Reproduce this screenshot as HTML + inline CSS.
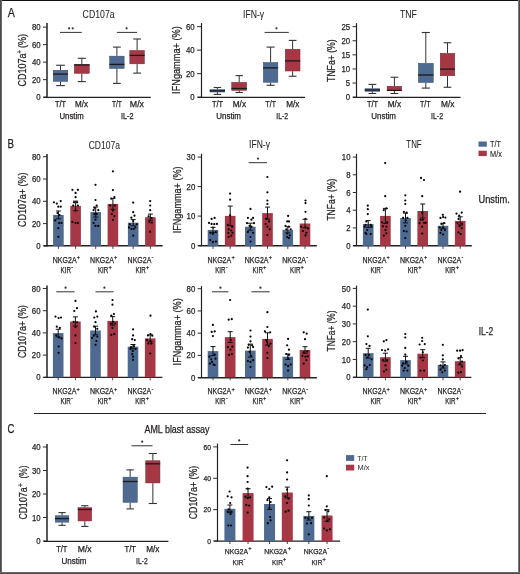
<!DOCTYPE html>
<html><head><meta charset="utf-8"><style>
html,body{margin:0;padding:0;background:#fff;width:520px;height:574px;overflow:hidden}
svg{display:block;font-family:"Liberation Sans", sans-serif;will-change:transform}
text{stroke:#231f20;stroke-width:0.25px}
</style></head><body>
<svg width="520" height="574" viewBox="0 0 520 574">
<rect x="0" y="0" width="520" height="574" fill="#fff"/>
<text x="7.7" y="17.4" font-size="12.2" textLength="7.1" lengthAdjust="spacingAndGlyphs" fill="#231f20">A</text>
<text x="7.6" y="148.0" font-size="12.0" textLength="6.5" lengthAdjust="spacingAndGlyphs" fill="#231f20">B</text>
<text x="7.5" y="432.6" font-size="12.0" textLength="6.9" lengthAdjust="spacingAndGlyphs" fill="#231f20">C</text>
<line x1="47" y1="23.1" x2="47" y2="97.75" stroke="#222" stroke-width="1.5"/>
<line x1="43" y1="97.15" x2="47" y2="97.15" stroke="#2e2e2e" stroke-width="1.0"/>
<text x="40.7" y="100.25" font-size="8.8" text-anchor="end" textLength="4.35" lengthAdjust="spacingAndGlyphs" fill="#231f20">0</text>
<line x1="43" y1="79.65" x2="47" y2="79.65" stroke="#2e2e2e" stroke-width="1.0"/>
<text x="40.7" y="82.75" font-size="8.8" text-anchor="end" textLength="8.69" lengthAdjust="spacingAndGlyphs" fill="#231f20">20</text>
<line x1="43" y1="62.15" x2="47" y2="62.15" stroke="#2e2e2e" stroke-width="1.0"/>
<text x="40.7" y="65.25" font-size="8.8" text-anchor="end" textLength="8.69" lengthAdjust="spacingAndGlyphs" fill="#231f20">40</text>
<line x1="43" y1="44.65" x2="47" y2="44.65" stroke="#2e2e2e" stroke-width="1.0"/>
<text x="40.7" y="47.75" font-size="8.8" text-anchor="end" textLength="8.69" lengthAdjust="spacingAndGlyphs" fill="#231f20">60</text>
<line x1="43" y1="27.15" x2="47" y2="27.15" stroke="#2e2e2e" stroke-width="1.0"/>
<text x="40.7" y="30.25" font-size="8.8" text-anchor="end" textLength="8.69" lengthAdjust="spacingAndGlyphs" fill="#231f20">80</text>
<line x1="43.5" y1="97.4" x2="150.8" y2="97.4" stroke="#222" stroke-width="1.1"/>
<line x1="60.5" y1="65.25" x2="60.5" y2="70" stroke="#333" stroke-width="1.0"/>
<line x1="60.5" y1="81.6" x2="60.5" y2="85.6" stroke="#333" stroke-width="1.0"/>
<line x1="56.15" y1="65.25" x2="64.85" y2="65.25" stroke="#333" stroke-width="1.1"/>
<line x1="56.15" y1="85.6" x2="64.85" y2="85.6" stroke="#333" stroke-width="1.1"/>
<rect x="53.25" y="70.25" width="14.5" height="11.1" fill="#4f6a91" stroke="#34496a" stroke-width="0.5"/>
<line x1="53" y1="74.1" x2="68" y2="74.1" stroke="#1a1a1a" stroke-width="1.3"/>
<line x1="81.8" y1="58.3" x2="81.8" y2="64" stroke="#333" stroke-width="1.0"/>
<line x1="81.8" y1="73.6" x2="81.8" y2="81.6" stroke="#333" stroke-width="1.0"/>
<line x1="77.75" y1="58.3" x2="85.85" y2="58.3" stroke="#333" stroke-width="1.1"/>
<line x1="77.75" y1="81.6" x2="85.85" y2="81.6" stroke="#333" stroke-width="1.1"/>
<rect x="74.35" y="64.25" width="14.9" height="9.1" fill="#a63745" stroke="#7a2232" stroke-width="0.5"/>
<line x1="74.1" y1="65.0" x2="89.5" y2="65.0" stroke="#1a1a1a" stroke-width="1.3"/>
<line x1="116.9" y1="47.1" x2="116.9" y2="55.9" stroke="#333" stroke-width="1.0"/>
<line x1="116.9" y1="68.75" x2="116.9" y2="83.4" stroke="#333" stroke-width="1.0"/>
<line x1="113.0" y1="47.1" x2="120.80000000000001" y2="47.1" stroke="#333" stroke-width="1.1"/>
<line x1="113.0" y1="83.4" x2="120.80000000000001" y2="83.4" stroke="#333" stroke-width="1.1"/>
<rect x="109.65" y="56.15" width="14.5" height="12.35" fill="#4f6a91" stroke="#34496a" stroke-width="0.5"/>
<line x1="109.4" y1="64.4" x2="124.4" y2="64.4" stroke="#1a1a1a" stroke-width="1.3"/>
<line x1="137.1" y1="39" x2="137.1" y2="50.25" stroke="#333" stroke-width="1.0"/>
<line x1="137.1" y1="64.1" x2="137.1" y2="73.1" stroke="#333" stroke-width="1.0"/>
<line x1="133.2" y1="39" x2="141.0" y2="39" stroke="#333" stroke-width="1.1"/>
<line x1="133.2" y1="73.1" x2="141.0" y2="73.1" stroke="#333" stroke-width="1.1"/>
<rect x="129.85" y="50.5" width="14.5" height="13.35" fill="#a63745" stroke="#7a2232" stroke-width="0.5"/>
<line x1="129.6" y1="55.4" x2="144.6" y2="55.4" stroke="#1a1a1a" stroke-width="1.3"/>
<line x1="60" y1="32.4" x2="81.8" y2="32.4" stroke="#333" stroke-width="1.0"/>
<circle cx="69.10000000000001" cy="28.299999999999997" r="1.1" fill="#333"/>
<circle cx="72.7" cy="28.299999999999997" r="1.1" fill="#333"/>
<line x1="116.9" y1="32.4" x2="137.1" y2="32.4" stroke="#333" stroke-width="1.0"/>
<circle cx="126.6" cy="28.299999999999997" r="1.1" fill="#333"/>
<text x="60.5" y="107.4" font-size="8.4" text-anchor="middle" textLength="11" lengthAdjust="spacingAndGlyphs" fill="#231f20">T/T</text>
<text x="81.6" y="107.4" font-size="8.4" text-anchor="middle" textLength="13.0" lengthAdjust="spacingAndGlyphs" fill="#231f20">M/x</text>
<text x="116.9" y="107.4" font-size="8.4" text-anchor="middle" textLength="10.0" lengthAdjust="spacingAndGlyphs" fill="#231f20">T/T</text>
<text x="136.9" y="107.4" font-size="8.4" text-anchor="middle" textLength="14.2" lengthAdjust="spacingAndGlyphs" fill="#231f20">M/x</text>
<text x="71.6" y="119.4" font-size="8.4" text-anchor="middle" textLength="24.2" lengthAdjust="spacingAndGlyphs" fill="#231f20">Unstim</text>
<text x="127.25" y="119.4" font-size="8.4" text-anchor="middle" textLength="12.5" lengthAdjust="spacingAndGlyphs" fill="#231f20">IL-2</text>
<text x="98.6" y="18.1" font-size="10.2" text-anchor="middle" textLength="32" lengthAdjust="spacingAndGlyphs" fill="#231f20" style="stroke-width:0.05px">CD107a</text>
<text transform="translate(26.1 60.25) rotate(-90)" font-size="10.6" text-anchor="middle" fill="#231f20" textLength="52.7" lengthAdjust="spacingAndGlyphs">CD107a<tspan font-size="6.5" dy="-4.2">+</tspan><tspan dy="4.2"> (%)</tspan></text>
<line x1="201.5" y1="23.1" x2="201.5" y2="97.75" stroke="#222" stroke-width="1.2"/>
<line x1="197" y1="97.15" x2="201" y2="97.15" stroke="#2e2e2e" stroke-width="1.0"/>
<text x="194.7" y="100.25" font-size="8.8" text-anchor="end" textLength="4.35" lengthAdjust="spacingAndGlyphs" fill="#231f20">0</text>
<line x1="197" y1="73.65" x2="201" y2="73.65" stroke="#2e2e2e" stroke-width="1.0"/>
<text x="194.7" y="76.75" font-size="8.8" text-anchor="end" textLength="8.69" lengthAdjust="spacingAndGlyphs" fill="#231f20">20</text>
<line x1="197" y1="50.15" x2="201" y2="50.15" stroke="#2e2e2e" stroke-width="1.0"/>
<text x="194.7" y="53.25" font-size="8.8" text-anchor="end" textLength="8.69" lengthAdjust="spacingAndGlyphs" fill="#231f20">40</text>
<line x1="197" y1="26.65" x2="201" y2="26.65" stroke="#2e2e2e" stroke-width="1.0"/>
<text x="194.7" y="29.75" font-size="8.8" text-anchor="end" textLength="8.69" lengthAdjust="spacingAndGlyphs" fill="#231f20">60</text>
<line x1="198" y1="97.4" x2="305" y2="97.4" stroke="#222" stroke-width="1.1"/>
<line x1="217.375" y1="87.5" x2="217.375" y2="89.4" stroke="#333" stroke-width="1.0"/>
<line x1="217.375" y1="92.25" x2="217.375" y2="94.4" stroke="#333" stroke-width="1.0"/>
<line x1="213.625" y1="87.5" x2="221.125" y2="87.5" stroke="#333" stroke-width="1.1"/>
<line x1="213.625" y1="94.4" x2="221.125" y2="94.4" stroke="#333" stroke-width="1.1"/>
<rect x="210.0" y="89.65" width="14.75" height="2.35" fill="#4f6a91" stroke="#34496a" stroke-width="0.5"/>
<line x1="209.75" y1="90.9" x2="225" y2="90.9" stroke="#1a1a1a" stroke-width="1.3"/>
<line x1="239.2" y1="75.6" x2="239.2" y2="82.1" stroke="#333" stroke-width="1.0"/>
<line x1="239.2" y1="90.6" x2="239.2" y2="92.5" stroke="#333" stroke-width="1.0"/>
<line x1="235.5" y1="75.6" x2="242.89999999999998" y2="75.6" stroke="#333" stroke-width="1.1"/>
<line x1="235.5" y1="92.5" x2="242.89999999999998" y2="92.5" stroke="#333" stroke-width="1.1"/>
<rect x="231.75" y="82.35" width="14.9" height="8.0" fill="#a63745" stroke="#7a2232" stroke-width="0.5"/>
<line x1="231.5" y1="88.5" x2="246.9" y2="88.5" stroke="#1a1a1a" stroke-width="1.3"/>
<line x1="270.6" y1="47.1" x2="270.6" y2="62.25" stroke="#333" stroke-width="1.0"/>
<line x1="270.6" y1="82.5" x2="270.6" y2="85.25" stroke="#333" stroke-width="1.0"/>
<line x1="266.55" y1="47.1" x2="274.65000000000003" y2="47.1" stroke="#333" stroke-width="1.1"/>
<line x1="266.55" y1="85.25" x2="274.65000000000003" y2="85.25" stroke="#333" stroke-width="1.1"/>
<rect x="263.35" y="62.5" width="14.5" height="19.75" fill="#4f6a91" stroke="#34496a" stroke-width="0.5"/>
<line x1="263.1" y1="67.9" x2="278.1" y2="67.9" stroke="#1a1a1a" stroke-width="1.3"/>
<line x1="292.625" y1="40.4" x2="292.625" y2="49" stroke="#333" stroke-width="1.0"/>
<line x1="292.625" y1="71.25" x2="292.625" y2="76.25" stroke="#333" stroke-width="1.0"/>
<line x1="288.75" y1="40.4" x2="296.5" y2="40.4" stroke="#333" stroke-width="1.1"/>
<line x1="288.75" y1="76.25" x2="296.5" y2="76.25" stroke="#333" stroke-width="1.1"/>
<rect x="285.25" y="49.25" width="14.75" height="21.75" fill="#a63745" stroke="#7a2232" stroke-width="0.5"/>
<line x1="285" y1="60.9" x2="300.25" y2="60.9" stroke="#1a1a1a" stroke-width="1.3"/>
<line x1="264.6" y1="32.4" x2="288.8" y2="32.4" stroke="#333" stroke-width="1.0"/>
<circle cx="276.5" cy="28.299999999999997" r="1.1" fill="#333"/>
<text x="217.45" y="107.4" font-size="8.4" text-anchor="middle" textLength="11.1" lengthAdjust="spacingAndGlyphs" fill="#231f20">T/T</text>
<text x="239.38" y="107.4" font-size="8.4" text-anchor="middle" textLength="13.25" lengthAdjust="spacingAndGlyphs" fill="#231f20">M/x</text>
<text x="270.8" y="107.4" font-size="8.4" text-anchor="middle" textLength="10.4" lengthAdjust="spacingAndGlyphs" fill="#231f20">T/T</text>
<text x="292.82" y="107.4" font-size="8.4" text-anchor="middle" textLength="13.15" lengthAdjust="spacingAndGlyphs" fill="#231f20">M/x</text>
<text x="228.62" y="119.4" font-size="8.4" text-anchor="middle" textLength="24.75" lengthAdjust="spacingAndGlyphs" fill="#231f20">Unstim</text>
<text x="282.18" y="119.4" font-size="8.4" text-anchor="middle" textLength="11.85" lengthAdjust="spacingAndGlyphs" fill="#231f20">IL-2</text>
<text x="253.65" y="18.1" font-size="10.2" text-anchor="middle" textLength="21.1" lengthAdjust="spacingAndGlyphs" fill="#231f20" style="stroke-width:0.05px">IFN-&#947;</text>
<text transform="translate(179.9 60.1) rotate(-90)" x="0" y="0" font-size="10.6" text-anchor="middle" textLength="67.6" lengthAdjust="spacingAndGlyphs" fill="#231f20">IFNgamma+ (%)</text>
<line x1="356.5" y1="23.1" x2="356.5" y2="97.75" stroke="#222" stroke-width="1.2"/>
<line x1="352.5" y1="97.15" x2="356.5" y2="97.15" stroke="#2e2e2e" stroke-width="1.0"/>
<text x="350.2" y="100.25" font-size="8.8" text-anchor="end" textLength="4.35" lengthAdjust="spacingAndGlyphs" fill="#231f20">0</text>
<line x1="352.5" y1="83.05" x2="356.5" y2="83.05" stroke="#2e2e2e" stroke-width="1.0"/>
<text x="350.2" y="86.15" font-size="8.8" text-anchor="end" textLength="4.35" lengthAdjust="spacingAndGlyphs" fill="#231f20">5</text>
<line x1="352.5" y1="68.95" x2="356.5" y2="68.95" stroke="#2e2e2e" stroke-width="1.0"/>
<text x="350.2" y="72.05" font-size="8.8" text-anchor="end" textLength="8.69" lengthAdjust="spacingAndGlyphs" fill="#231f20">10</text>
<line x1="352.5" y1="54.85" x2="356.5" y2="54.85" stroke="#2e2e2e" stroke-width="1.0"/>
<text x="350.2" y="57.95" font-size="8.8" text-anchor="end" textLength="8.69" lengthAdjust="spacingAndGlyphs" fill="#231f20">15</text>
<line x1="352.5" y1="40.75" x2="356.5" y2="40.75" stroke="#2e2e2e" stroke-width="1.0"/>
<text x="350.2" y="43.85" font-size="8.8" text-anchor="end" textLength="8.69" lengthAdjust="spacingAndGlyphs" fill="#231f20">20</text>
<line x1="352.5" y1="26.65" x2="356.5" y2="26.65" stroke="#2e2e2e" stroke-width="1.0"/>
<text x="350.2" y="29.75" font-size="8.8" text-anchor="end" textLength="8.69" lengthAdjust="spacingAndGlyphs" fill="#231f20">25</text>
<line x1="353" y1="97.4" x2="460.6" y2="97.4" stroke="#222" stroke-width="1.1"/>
<line x1="372.375" y1="84.4" x2="372.375" y2="88.5" stroke="#333" stroke-width="1.0"/>
<line x1="372.375" y1="91.5" x2="372.375" y2="93.5" stroke="#333" stroke-width="1.0"/>
<line x1="368.5" y1="84.4" x2="376.25" y2="84.4" stroke="#333" stroke-width="1.1"/>
<line x1="368.5" y1="93.5" x2="376.25" y2="93.5" stroke="#333" stroke-width="1.1"/>
<rect x="365.0" y="88.75" width="14.75" height="2.5" fill="#4f6a91" stroke="#34496a" stroke-width="0.5"/>
<line x1="364.75" y1="90" x2="380" y2="90" stroke="#1a1a1a" stroke-width="1.3"/>
<line x1="394.4" y1="77.25" x2="394.4" y2="86" stroke="#333" stroke-width="1.0"/>
<line x1="394.4" y1="90.8" x2="394.4" y2="93.5" stroke="#333" stroke-width="1.0"/>
<line x1="390.59999999999997" y1="77.25" x2="398.2" y2="77.25" stroke="#333" stroke-width="1.1"/>
<line x1="390.59999999999997" y1="93.5" x2="398.2" y2="93.5" stroke="#333" stroke-width="1.1"/>
<rect x="387.15" y="86.25" width="14.5" height="4.3" fill="#a63745" stroke="#7a2232" stroke-width="0.5"/>
<line x1="386.9" y1="90.4" x2="401.9" y2="90.4" stroke="#1a1a1a" stroke-width="1.3"/>
<line x1="425.8" y1="32.5" x2="425.8" y2="63.1" stroke="#333" stroke-width="1.0"/>
<line x1="425.8" y1="82.75" x2="425.8" y2="88.1" stroke="#333" stroke-width="1.0"/>
<line x1="421.75" y1="32.5" x2="429.85" y2="32.5" stroke="#333" stroke-width="1.1"/>
<line x1="421.75" y1="88.1" x2="429.85" y2="88.1" stroke="#333" stroke-width="1.1"/>
<rect x="418.35" y="63.35" width="14.9" height="19.15" fill="#4f6a91" stroke="#34496a" stroke-width="0.5"/>
<line x1="418.1" y1="75" x2="433.5" y2="75" stroke="#1a1a1a" stroke-width="1.3"/>
<line x1="447.5" y1="42.75" x2="447.5" y2="53.1" stroke="#333" stroke-width="1.0"/>
<line x1="447.5" y1="76" x2="447.5" y2="87.25" stroke="#333" stroke-width="1.0"/>
<line x1="443.625" y1="42.75" x2="451.375" y2="42.75" stroke="#333" stroke-width="1.1"/>
<line x1="443.625" y1="87.25" x2="451.375" y2="87.25" stroke="#333" stroke-width="1.1"/>
<rect x="440.25" y="53.35" width="14.5" height="22.4" fill="#a63745" stroke="#7a2232" stroke-width="0.5"/>
<line x1="440" y1="69.1" x2="455" y2="69.1" stroke="#1a1a1a" stroke-width="1.3"/>
<text x="372.45" y="107.4" font-size="8.4" text-anchor="middle" textLength="11.1" lengthAdjust="spacingAndGlyphs" fill="#231f20">T/T</text>
<text x="394.38" y="107.4" font-size="8.4" text-anchor="middle" textLength="13.25" lengthAdjust="spacingAndGlyphs" fill="#231f20">M/x</text>
<text x="425.3" y="107.4" font-size="8.4" text-anchor="middle" textLength="10.6" lengthAdjust="spacingAndGlyphs" fill="#231f20">T/T</text>
<text x="447.7" y="107.4" font-size="8.4" text-anchor="middle" textLength="13.4" lengthAdjust="spacingAndGlyphs" fill="#231f20">M/x</text>
<text x="383.62" y="119.4" font-size="8.4" text-anchor="middle" textLength="24.75" lengthAdjust="spacingAndGlyphs" fill="#231f20">Unstim</text>
<text x="437.05" y="119.4" font-size="8.4" text-anchor="middle" textLength="12.1" lengthAdjust="spacingAndGlyphs" fill="#231f20">IL-2</text>
<text x="408.45" y="18.1" font-size="10.2" text-anchor="middle" textLength="16.9" lengthAdjust="spacingAndGlyphs" fill="#231f20" style="stroke-width:0.05px">TNF</text>
<text transform="translate(335.1 60.65) rotate(-90)" x="0" y="0" font-size="10.6" text-anchor="middle" textLength="42.5" lengthAdjust="spacingAndGlyphs" fill="#231f20">TNFa+ (%)</text>
<line x1="47" y1="154" x2="47" y2="246.5" stroke="#222" stroke-width="1.5"/>
<line x1="43" y1="245.9" x2="47" y2="245.9" stroke="#2e2e2e" stroke-width="1.0"/>
<text x="40.7" y="249.0" font-size="8.8" text-anchor="end" textLength="4.35" lengthAdjust="spacingAndGlyphs" fill="#231f20">0</text>
<line x1="43" y1="223.6" x2="47" y2="223.6" stroke="#2e2e2e" stroke-width="1.0"/>
<text x="40.7" y="226.7" font-size="8.8" text-anchor="end" textLength="8.69" lengthAdjust="spacingAndGlyphs" fill="#231f20">20</text>
<line x1="43" y1="201.3" x2="47" y2="201.3" stroke="#2e2e2e" stroke-width="1.0"/>
<text x="40.7" y="204.4" font-size="8.8" text-anchor="end" textLength="8.69" lengthAdjust="spacingAndGlyphs" fill="#231f20">40</text>
<line x1="43" y1="179.0" x2="47" y2="179.0" stroke="#2e2e2e" stroke-width="1.0"/>
<text x="40.7" y="182.1" font-size="8.8" text-anchor="end" textLength="8.69" lengthAdjust="spacingAndGlyphs" fill="#231f20">60</text>
<line x1="43" y1="156.7" x2="47" y2="156.7" stroke="#2e2e2e" stroke-width="1.0"/>
<text x="40.7" y="159.8" font-size="8.8" text-anchor="end" textLength="8.69" lengthAdjust="spacingAndGlyphs" fill="#231f20">80</text>
<line x1="43.7" y1="245.8" x2="162.7" y2="245.8" stroke="#222" stroke-width="1.5"/>
<rect x="53.1" y="214.9" width="10.600000000000001" height="31.0" fill="#4f6a91"/>
<circle cx="53.9" cy="202.3" r="1.1" fill="#000"/>
<circle cx="56.8" cy="203.6" r="1.1" fill="#000"/>
<circle cx="60.7" cy="201.1" r="1.1" fill="#000"/>
<circle cx="58.3" cy="206.7" r="1.1" fill="#000"/>
<circle cx="60.7" cy="206.7" r="1.1" fill="#000"/>
<circle cx="55.2" cy="220.4" r="1.1" fill="#000"/>
<circle cx="59.1" cy="223" r="1.1" fill="#000"/>
<circle cx="61.5" cy="223" r="1.1" fill="#000"/>
<circle cx="58.3" cy="228.2" r="1.1" fill="#000"/>
<circle cx="58.3" cy="236.8" r="1.1" fill="#000"/>
<circle cx="57.5" cy="213" r="1.1" fill="#000"/>
<circle cx="59.5" cy="215" r="1.1" fill="#000"/>
<line x1="58.400000000000006" y1="211" x2="58.400000000000006" y2="218.8" stroke="#111" stroke-width="1.0"/>
<line x1="55.900000000000006" y1="211" x2="60.900000000000006" y2="211" stroke="#111" stroke-width="1.0"/>
<line x1="55.900000000000006" y1="218.8" x2="60.900000000000006" y2="218.8" stroke="#111" stroke-width="1.0"/>
<line x1="58.400000000000006" y1="245.9" x2="58.400000000000006" y2="248.9" stroke="#333" stroke-width="0.9"/>
<rect x="70.3" y="205.9" width="10.600000000000009" height="40.0" fill="#a63745"/>
<circle cx="72.4" cy="189.8" r="1.1" fill="#000"/>
<circle cx="77.9" cy="189.8" r="1.1" fill="#000"/>
<circle cx="75.6" cy="192.9" r="1.1" fill="#000"/>
<circle cx="75.6" cy="197.2" r="1.1" fill="#000"/>
<circle cx="74" cy="202.3" r="1.1" fill="#000"/>
<circle cx="77.1" cy="202.3" r="1.1" fill="#000"/>
<circle cx="73.2" cy="205.5" r="1.1" fill="#000"/>
<circle cx="77.9" cy="205.5" r="1.1" fill="#000"/>
<circle cx="75.6" cy="210.5" r="1.1" fill="#000"/>
<circle cx="72.4" cy="221.9" r="1.1" fill="#000"/>
<circle cx="75.6" cy="223" r="1.1" fill="#000"/>
<circle cx="77.9" cy="223" r="1.1" fill="#000"/>
<line x1="75.6" y1="201.1" x2="75.6" y2="210.70000000000002" stroke="#111" stroke-width="1.0"/>
<line x1="73.1" y1="201.1" x2="78.1" y2="201.1" stroke="#111" stroke-width="1.0"/>
<line x1="73.1" y1="210.70000000000002" x2="78.1" y2="210.70000000000002" stroke="#111" stroke-width="1.0"/>
<line x1="75.6" y1="245.9" x2="75.6" y2="248.9" stroke="#333" stroke-width="0.9"/>
<rect x="90.4" y="212.05" width="10.599999999999994" height="33.849999999999994" fill="#4f6a91"/>
<circle cx="95.5" cy="184.8" r="1.1" fill="#000"/>
<circle cx="95.5" cy="200" r="1.1" fill="#000"/>
<circle cx="96.7" cy="205.5" r="1.1" fill="#000"/>
<circle cx="94.4" cy="207.8" r="1.1" fill="#000"/>
<circle cx="93.6" cy="210.2" r="1.1" fill="#000"/>
<circle cx="98.3" cy="210.2" r="1.1" fill="#000"/>
<circle cx="94.4" cy="214.1" r="1.1" fill="#000"/>
<circle cx="96.7" cy="214.1" r="1.1" fill="#000"/>
<circle cx="95.5" cy="219.6" r="1.1" fill="#000"/>
<circle cx="93.6" cy="223" r="1.1" fill="#000"/>
<circle cx="95.5" cy="225.9" r="1.1" fill="#000"/>
<circle cx="98.3" cy="225.9" r="1.1" fill="#000"/>
<line x1="95.7" y1="207" x2="95.7" y2="217.10000000000002" stroke="#111" stroke-width="1.0"/>
<line x1="93.2" y1="207" x2="98.2" y2="207" stroke="#111" stroke-width="1.0"/>
<line x1="93.2" y1="217.10000000000002" x2="98.2" y2="217.10000000000002" stroke="#111" stroke-width="1.0"/>
<line x1="95.7" y1="245.9" x2="95.7" y2="248.9" stroke="#333" stroke-width="0.9"/>
<rect x="107.6" y="203.9" width="10.600000000000009" height="42.0" fill="#a63745"/>
<circle cx="112.9" cy="171.3" r="1.1" fill="#000"/>
<circle cx="112.9" cy="190.1" r="1.1" fill="#000"/>
<circle cx="114.4" cy="197.2" r="1.1" fill="#000"/>
<circle cx="111.3" cy="198.7" r="1.1" fill="#000"/>
<circle cx="110.2" cy="205.5" r="1.1" fill="#000"/>
<circle cx="114.9" cy="205.5" r="1.1" fill="#000"/>
<circle cx="112.9" cy="210.6" r="1.1" fill="#000"/>
<circle cx="111.8" cy="214.1" r="1.1" fill="#000"/>
<circle cx="114.4" cy="216.1" r="1.1" fill="#000"/>
<circle cx="112.9" cy="219.9" r="1.1" fill="#000"/>
<line x1="112.9" y1="198.4" x2="112.9" y2="209.4" stroke="#111" stroke-width="1.0"/>
<line x1="110.4" y1="198.4" x2="115.4" y2="198.4" stroke="#111" stroke-width="1.0"/>
<line x1="110.4" y1="209.4" x2="115.4" y2="209.4" stroke="#111" stroke-width="1.0"/>
<line x1="112.9" y1="245.9" x2="112.9" y2="248.9" stroke="#333" stroke-width="0.9"/>
<rect x="127.9" y="222.7" width="10.599999999999994" height="23.200000000000017" fill="#4f6a91"/>
<circle cx="133.2" cy="202.6" r="1.1" fill="#000"/>
<circle cx="133.2" cy="212.2" r="1.1" fill="#000"/>
<circle cx="134.5" cy="215.7" r="1.1" fill="#000"/>
<circle cx="131.4" cy="217.7" r="1.1" fill="#000"/>
<circle cx="133.2" cy="221.1" r="1.1" fill="#000"/>
<circle cx="129.8" cy="224.3" r="1.1" fill="#000"/>
<circle cx="136.8" cy="224.3" r="1.1" fill="#000"/>
<circle cx="129" cy="227.4" r="1.1" fill="#000"/>
<circle cx="135.3" cy="227.4" r="1.1" fill="#000"/>
<circle cx="131.4" cy="229" r="1.1" fill="#000"/>
<circle cx="133.7" cy="229" r="1.1" fill="#000"/>
<circle cx="133.2" cy="235.7" r="1.1" fill="#000"/>
<line x1="133.2" y1="219.6" x2="133.2" y2="225.79999999999998" stroke="#111" stroke-width="1.0"/>
<line x1="130.7" y1="219.6" x2="135.7" y2="219.6" stroke="#111" stroke-width="1.0"/>
<line x1="130.7" y1="225.79999999999998" x2="135.7" y2="225.79999999999998" stroke="#111" stroke-width="1.0"/>
<line x1="133.2" y1="245.9" x2="133.2" y2="248.9" stroke="#333" stroke-width="0.9"/>
<rect x="145.1" y="217.2" width="10.599999999999994" height="28.700000000000017" fill="#a63745"/>
<circle cx="150.2" cy="201.1" r="1.1" fill="#000"/>
<circle cx="150.2" cy="205.5" r="1.1" fill="#000"/>
<circle cx="150.2" cy="210.2" r="1.1" fill="#000"/>
<circle cx="148.6" cy="216.4" r="1.1" fill="#000"/>
<circle cx="151.7" cy="218" r="1.1" fill="#000"/>
<circle cx="149.4" cy="221.9" r="1.1" fill="#000"/>
<circle cx="151.7" cy="222.7" r="1.1" fill="#000"/>
<circle cx="150.2" cy="231.7" r="1.1" fill="#000"/>
<line x1="150.39999999999998" y1="214.1" x2="150.39999999999998" y2="220.29999999999998" stroke="#111" stroke-width="1.0"/>
<line x1="147.89999999999998" y1="214.1" x2="152.89999999999998" y2="214.1" stroke="#111" stroke-width="1.0"/>
<line x1="147.89999999999998" y1="220.29999999999998" x2="152.89999999999998" y2="220.29999999999998" stroke="#111" stroke-width="1.0"/>
<line x1="150.39999999999998" y1="245.9" x2="150.39999999999998" y2="248.9" stroke="#333" stroke-width="0.9"/>
<text x="52.8" y="263.0" font-size="8.6" textLength="23.8" lengthAdjust="spacingAndGlyphs" fill="#231f20">NKG2A</text>
<text x="76.8" y="259.1" font-size="5.6" fill="#231f20">+</text>
<text x="60.6" y="272.7" font-size="8.6" textLength="10.4" lengthAdjust="spacingAndGlyphs" fill="#231f20">KIR</text>
<text x="71.2" y="268.8" font-size="5.6" fill="#231f20">-</text>
<text x="90.1" y="263.0" font-size="8.6" textLength="23.8" lengthAdjust="spacingAndGlyphs" fill="#231f20">NKG2A</text>
<text x="114.1" y="259.1" font-size="5.6" fill="#231f20">+</text>
<text x="97.9" y="272.7" font-size="8.6" textLength="10.4" lengthAdjust="spacingAndGlyphs" fill="#231f20">KIR</text>
<text x="108.5" y="268.8" font-size="5.6" fill="#231f20">+</text>
<text x="127.6" y="263.0" font-size="8.6" textLength="23.8" lengthAdjust="spacingAndGlyphs" fill="#231f20">NKG2A</text>
<text x="151.6" y="259.1" font-size="5.6" fill="#231f20">-</text>
<text x="135.4" y="272.7" font-size="8.6" textLength="10.4" lengthAdjust="spacingAndGlyphs" fill="#231f20">KIR</text>
<text x="146.0" y="268.8" font-size="5.6" fill="#231f20">+</text>
<text x="104.3" y="148.6" font-size="10.2" text-anchor="middle" textLength="31.25" lengthAdjust="spacingAndGlyphs" fill="#231f20" style="stroke-width:0.05px">CD107a</text>
<text transform="translate(25.5 199.75) rotate(-90)" font-size="10.6" text-anchor="middle" fill="#231f20" textLength="54.5" lengthAdjust="spacingAndGlyphs">CD107a+ (%)</text>
<line x1="201.5" y1="153.8" x2="201.5" y2="246.2" stroke="#222" stroke-width="1.2"/>
<line x1="197.6" y1="245.6" x2="201.6" y2="245.6" stroke="#2e2e2e" stroke-width="1.0"/>
<text x="195.3" y="248.7" font-size="8.8" text-anchor="end" textLength="4.35" lengthAdjust="spacingAndGlyphs" fill="#231f20">0</text>
<line x1="197.6" y1="216.1" x2="201.6" y2="216.1" stroke="#2e2e2e" stroke-width="1.0"/>
<text x="195.3" y="219.2" font-size="8.8" text-anchor="end" textLength="8.69" lengthAdjust="spacingAndGlyphs" fill="#231f20">10</text>
<line x1="197.6" y1="186.6" x2="201.6" y2="186.6" stroke="#2e2e2e" stroke-width="1.0"/>
<text x="195.3" y="189.7" font-size="8.8" text-anchor="end" textLength="8.69" lengthAdjust="spacingAndGlyphs" fill="#231f20">20</text>
<line x1="197.6" y1="157.1" x2="201.6" y2="157.1" stroke="#2e2e2e" stroke-width="1.0"/>
<text x="195.3" y="160.2" font-size="8.8" text-anchor="end" textLength="8.69" lengthAdjust="spacingAndGlyphs" fill="#231f20">30</text>
<line x1="198.2" y1="245.8" x2="316.8" y2="245.8" stroke="#222" stroke-width="1.5"/>
<rect x="207.7" y="229.9" width="10.600000000000023" height="16.0" fill="#4f6a91"/>
<circle cx="211.6" cy="218.9" r="1.1" fill="#000"/>
<circle cx="214.6" cy="217.9" r="1.1" fill="#000"/>
<circle cx="209" cy="222.9" r="1.1" fill="#000"/>
<circle cx="211.6" cy="223.9" r="1.1" fill="#000"/>
<circle cx="214.3" cy="224.2" r="1.1" fill="#000"/>
<circle cx="216.9" cy="223.9" r="1.1" fill="#000"/>
<circle cx="213" cy="227.5" r="1.1" fill="#000"/>
<circle cx="210.3" cy="232.8" r="1.1" fill="#000"/>
<circle cx="212.9" cy="233.8" r="1.1" fill="#000"/>
<circle cx="215.9" cy="232.2" r="1.1" fill="#000"/>
<circle cx="210.3" cy="240.1" r="1.1" fill="#000"/>
<circle cx="212.9" cy="242.1" r="1.1" fill="#000"/>
<circle cx="215.9" cy="241.5" r="1.1" fill="#000"/>
<line x1="213.0" y1="227.4" x2="213.0" y2="232.4" stroke="#111" stroke-width="1.0"/>
<line x1="210.5" y1="227.4" x2="215.5" y2="227.4" stroke="#111" stroke-width="1.0"/>
<line x1="210.5" y1="232.4" x2="215.5" y2="232.4" stroke="#111" stroke-width="1.0"/>
<line x1="213.0" y1="245.9" x2="213.0" y2="248.9" stroke="#333" stroke-width="0.9"/>
<rect x="224.9" y="215.9" width="10.599999999999994" height="30.0" fill="#a63745"/>
<circle cx="230.1" cy="193.6" r="1.1" fill="#000"/>
<circle cx="230.1" cy="199.7" r="1.1" fill="#000"/>
<circle cx="230.1" cy="215.3" r="1.1" fill="#000"/>
<circle cx="227.8" cy="224.9" r="1.1" fill="#000"/>
<circle cx="232.2" cy="226.7" r="1.1" fill="#000"/>
<circle cx="228.7" cy="229.3" r="1.1" fill="#000"/>
<circle cx="231.3" cy="230.5" r="1.1" fill="#000"/>
<circle cx="228.4" cy="232.8" r="1.1" fill="#000"/>
<circle cx="232.5" cy="232.8" r="1.1" fill="#000"/>
<circle cx="228.7" cy="236.8" r="1.1" fill="#000"/>
<circle cx="231.3" cy="235.7" r="1.1" fill="#000"/>
<line x1="230.2" y1="206.1" x2="230.2" y2="225.70000000000002" stroke="#111" stroke-width="1.0"/>
<line x1="227.7" y1="206.1" x2="232.7" y2="206.1" stroke="#111" stroke-width="1.0"/>
<line x1="227.7" y1="225.70000000000002" x2="232.7" y2="225.70000000000002" stroke="#111" stroke-width="1.0"/>
<line x1="230.2" y1="245.9" x2="230.2" y2="248.9" stroke="#333" stroke-width="0.9"/>
<rect x="245.0" y="226.7" width="10.599999999999994" height="19.200000000000017" fill="#4f6a91"/>
<circle cx="250.5" cy="208.9" r="1.1" fill="#000"/>
<circle cx="247.9" cy="217.9" r="1.1" fill="#000"/>
<circle cx="251.4" cy="219.7" r="1.1" fill="#000"/>
<circle cx="253.1" cy="217.9" r="1.1" fill="#000"/>
<circle cx="247" cy="223.2" r="1.1" fill="#000"/>
<circle cx="254" cy="223.2" r="1.1" fill="#000"/>
<circle cx="249.6" cy="225.8" r="1.1" fill="#000"/>
<circle cx="251.4" cy="226.7" r="1.1" fill="#000"/>
<circle cx="247.9" cy="231.9" r="1.1" fill="#000"/>
<circle cx="253.1" cy="232.8" r="1.1" fill="#000"/>
<circle cx="250.5" cy="237.1" r="1.1" fill="#000"/>
<circle cx="250.5" cy="241.5" r="1.1" fill="#000"/>
<line x1="250.3" y1="223.2" x2="250.3" y2="230.2" stroke="#111" stroke-width="1.0"/>
<line x1="247.8" y1="223.2" x2="252.8" y2="223.2" stroke="#111" stroke-width="1.0"/>
<line x1="247.8" y1="230.2" x2="252.8" y2="230.2" stroke="#111" stroke-width="1.0"/>
<line x1="250.3" y1="245.9" x2="250.3" y2="248.9" stroke="#333" stroke-width="0.9"/>
<rect x="262.2" y="213.1" width="10.600000000000023" height="32.80000000000001" fill="#a63745"/>
<circle cx="267.4" cy="177" r="1.1" fill="#000"/>
<circle cx="267.4" cy="192.3" r="1.1" fill="#000"/>
<circle cx="267.4" cy="200.5" r="1.1" fill="#000"/>
<circle cx="267.4" cy="204" r="1.1" fill="#000"/>
<circle cx="266.2" cy="218.8" r="1.1" fill="#000"/>
<circle cx="269.1" cy="221.4" r="1.1" fill="#000"/>
<circle cx="265.6" cy="224" r="1.1" fill="#000"/>
<circle cx="267.4" cy="226.7" r="1.1" fill="#000"/>
<circle cx="269.7" cy="229.3" r="1.1" fill="#000"/>
<circle cx="267.4" cy="235" r="1.1" fill="#000"/>
<line x1="267.5" y1="207.1" x2="267.5" y2="219.1" stroke="#111" stroke-width="1.0"/>
<line x1="265.0" y1="207.1" x2="270.0" y2="207.1" stroke="#111" stroke-width="1.0"/>
<line x1="265.0" y1="219.1" x2="270.0" y2="219.1" stroke="#111" stroke-width="1.0"/>
<line x1="267.5" y1="245.9" x2="267.5" y2="248.9" stroke="#333" stroke-width="0.9"/>
<rect x="282.5" y="229.8" width="10.600000000000023" height="16.099999999999994" fill="#4f6a91"/>
<circle cx="288.1" cy="215.9" r="1.1" fill="#000"/>
<circle cx="287.2" cy="221.4" r="1.1" fill="#000"/>
<circle cx="288.9" cy="221.4" r="1.1" fill="#000"/>
<circle cx="285.5" cy="225.8" r="1.1" fill="#000"/>
<circle cx="288.9" cy="226.7" r="1.1" fill="#000"/>
<circle cx="286.3" cy="229.3" r="1.1" fill="#000"/>
<circle cx="290.7" cy="229.3" r="1.1" fill="#000"/>
<circle cx="287.2" cy="233.6" r="1.1" fill="#000"/>
<circle cx="289.8" cy="235.4" r="1.1" fill="#000"/>
<circle cx="287.2" cy="237.1" r="1.1" fill="#000"/>
<circle cx="288.9" cy="238" r="1.1" fill="#000"/>
<line x1="287.8" y1="226.7" x2="287.8" y2="232.90000000000003" stroke="#111" stroke-width="1.0"/>
<line x1="285.3" y1="226.7" x2="290.3" y2="226.7" stroke="#111" stroke-width="1.0"/>
<line x1="285.3" y1="232.90000000000003" x2="290.3" y2="232.90000000000003" stroke="#111" stroke-width="1.0"/>
<line x1="287.8" y1="245.9" x2="287.8" y2="248.9" stroke="#333" stroke-width="0.9"/>
<rect x="299.7" y="223.5" width="10.600000000000023" height="22.400000000000006" fill="#a63745"/>
<circle cx="305.5" cy="200.5" r="1.1" fill="#000"/>
<circle cx="305.5" cy="203.1" r="1.1" fill="#000"/>
<circle cx="305.5" cy="211.8" r="1.1" fill="#000"/>
<circle cx="305.5" cy="218.8" r="1.1" fill="#000"/>
<circle cx="301.1" cy="226.7" r="1.1" fill="#000"/>
<circle cx="305.5" cy="227.5" r="1.1" fill="#000"/>
<circle cx="308.1" cy="228.4" r="1.1" fill="#000"/>
<circle cx="302.9" cy="231" r="1.1" fill="#000"/>
<circle cx="306.4" cy="232.8" r="1.1" fill="#000"/>
<circle cx="305.5" cy="235.4" r="1.1" fill="#000"/>
<line x1="305.0" y1="219.3" x2="305.0" y2="227.7" stroke="#111" stroke-width="1.0"/>
<line x1="302.5" y1="219.3" x2="307.5" y2="219.3" stroke="#111" stroke-width="1.0"/>
<line x1="302.5" y1="227.7" x2="307.5" y2="227.7" stroke="#111" stroke-width="1.0"/>
<line x1="305.0" y1="245.9" x2="305.0" y2="248.9" stroke="#333" stroke-width="0.9"/>
<line x1="248.7" y1="162.7" x2="267" y2="162.7" stroke="#333" stroke-width="1.0"/>
<circle cx="258" cy="158.6" r="1.1" fill="#333"/>
<text x="207.4" y="263.0" font-size="8.6" textLength="23.8" lengthAdjust="spacingAndGlyphs" fill="#231f20">NKG2A</text>
<text x="231.4" y="259.1" font-size="5.6" fill="#231f20">+</text>
<text x="215.2" y="272.7" font-size="8.6" textLength="10.4" lengthAdjust="spacingAndGlyphs" fill="#231f20">KIR</text>
<text x="225.8" y="268.8" font-size="5.6" fill="#231f20">-</text>
<text x="244.7" y="263.0" font-size="8.6" textLength="23.8" lengthAdjust="spacingAndGlyphs" fill="#231f20">NKG2A</text>
<text x="268.7" y="259.1" font-size="5.6" fill="#231f20">+</text>
<text x="252.5" y="272.7" font-size="8.6" textLength="10.4" lengthAdjust="spacingAndGlyphs" fill="#231f20">KIR</text>
<text x="263.1" y="268.8" font-size="5.6" fill="#231f20">+</text>
<text x="282.2" y="263.0" font-size="8.6" textLength="23.8" lengthAdjust="spacingAndGlyphs" fill="#231f20">NKG2A</text>
<text x="306.2" y="259.1" font-size="5.6" fill="#231f20">-</text>
<text x="290.0" y="272.7" font-size="8.6" textLength="10.4" lengthAdjust="spacingAndGlyphs" fill="#231f20">KIR</text>
<text x="300.6" y="268.8" font-size="5.6" fill="#231f20">+</text>
<text x="259.55" y="147.9" font-size="10.2" text-anchor="middle" textLength="20.9" lengthAdjust="spacingAndGlyphs" fill="#231f20" style="stroke-width:0.05px">IFN-&#947;</text>
<text transform="translate(180.9 199.9) rotate(-90)" x="0" y="0" font-size="10.6" text-anchor="middle" textLength="66.8" lengthAdjust="spacingAndGlyphs" fill="#231f20">IFNgamma+ (%)</text>
<line x1="356.5" y1="153.8" x2="356.5" y2="246.2" stroke="#222" stroke-width="1.2"/>
<line x1="352.8" y1="245.6" x2="356.8" y2="245.6" stroke="#2e2e2e" stroke-width="1.0"/>
<text x="350.5" y="248.7" font-size="8.8" text-anchor="end" textLength="4.35" lengthAdjust="spacingAndGlyphs" fill="#231f20">0</text>
<line x1="352.8" y1="227.9" x2="356.8" y2="227.9" stroke="#2e2e2e" stroke-width="1.0"/>
<text x="350.5" y="231.0" font-size="8.8" text-anchor="end" textLength="4.35" lengthAdjust="spacingAndGlyphs" fill="#231f20">2</text>
<line x1="352.8" y1="210.2" x2="356.8" y2="210.2" stroke="#2e2e2e" stroke-width="1.0"/>
<text x="350.5" y="213.3" font-size="8.8" text-anchor="end" textLength="4.35" lengthAdjust="spacingAndGlyphs" fill="#231f20">4</text>
<line x1="352.8" y1="192.5" x2="356.8" y2="192.5" stroke="#2e2e2e" stroke-width="1.0"/>
<text x="350.5" y="195.6" font-size="8.8" text-anchor="end" textLength="4.35" lengthAdjust="spacingAndGlyphs" fill="#231f20">6</text>
<line x1="352.8" y1="174.8" x2="356.8" y2="174.8" stroke="#2e2e2e" stroke-width="1.0"/>
<text x="350.5" y="177.9" font-size="8.8" text-anchor="end" textLength="4.35" lengthAdjust="spacingAndGlyphs" fill="#231f20">8</text>
<line x1="352.8" y1="157.1" x2="356.8" y2="157.1" stroke="#2e2e2e" stroke-width="1.0"/>
<text x="350.5" y="160.2" font-size="8.8" text-anchor="end" textLength="8.69" lengthAdjust="spacingAndGlyphs" fill="#231f20">10</text>
<line x1="353" y1="245.8" x2="471.8" y2="245.8" stroke="#222" stroke-width="1.5"/>
<rect x="362.9" y="224" width="10.600000000000023" height="21.900000000000006" fill="#4f6a91"/>
<circle cx="367.8" cy="205.7" r="1.1" fill="#000"/>
<circle cx="367.8" cy="209.2" r="1.1" fill="#000"/>
<circle cx="367.8" cy="214.1" r="1.1" fill="#000"/>
<circle cx="366.4" cy="221.4" r="1.1" fill="#000"/>
<circle cx="365.5" cy="224.9" r="1.1" fill="#000"/>
<circle cx="370.7" cy="224.9" r="1.1" fill="#000"/>
<circle cx="364.6" cy="226.7" r="1.1" fill="#000"/>
<circle cx="371.6" cy="226.7" r="1.1" fill="#000"/>
<circle cx="367.2" cy="230.1" r="1.1" fill="#000"/>
<circle cx="365.5" cy="232.8" r="1.1" fill="#000"/>
<circle cx="366.4" cy="234" r="1.1" fill="#000"/>
<circle cx="370.7" cy="234" r="1.1" fill="#000"/>
<line x1="368.2" y1="220.6" x2="368.2" y2="227.4" stroke="#111" stroke-width="1.0"/>
<line x1="365.7" y1="220.6" x2="370.7" y2="220.6" stroke="#111" stroke-width="1.0"/>
<line x1="365.7" y1="227.4" x2="370.7" y2="227.4" stroke="#111" stroke-width="1.0"/>
<line x1="368.2" y1="245.9" x2="368.2" y2="248.9" stroke="#333" stroke-width="0.9"/>
<rect x="380.1" y="215.9" width="10.599999999999966" height="30.0" fill="#a63745"/>
<circle cx="385.2" cy="163.1" r="1.1" fill="#000"/>
<circle cx="385.2" cy="196.2" r="1.1" fill="#000"/>
<circle cx="383.8" cy="210.1" r="1.1" fill="#000"/>
<circle cx="386.4" cy="208.4" r="1.1" fill="#000"/>
<circle cx="382" cy="222.3" r="1.1" fill="#000"/>
<circle cx="387.3" cy="222.3" r="1.1" fill="#000"/>
<circle cx="382.9" cy="226.3" r="1.1" fill="#000"/>
<circle cx="386.4" cy="226.7" r="1.1" fill="#000"/>
<circle cx="385.5" cy="230.1" r="1.1" fill="#000"/>
<circle cx="386.4" cy="233.3" r="1.1" fill="#000"/>
<circle cx="383.8" cy="235.7" r="1.1" fill="#000"/>
<line x1="385.4" y1="208.4" x2="385.4" y2="223.4" stroke="#111" stroke-width="1.0"/>
<line x1="382.9" y1="208.4" x2="387.9" y2="208.4" stroke="#111" stroke-width="1.0"/>
<line x1="382.9" y1="223.4" x2="387.9" y2="223.4" stroke="#111" stroke-width="1.0"/>
<line x1="385.4" y1="245.9" x2="385.4" y2="248.9" stroke="#333" stroke-width="0.9"/>
<rect x="400.2" y="218" width="10.600000000000023" height="27.900000000000006" fill="#4f6a91"/>
<circle cx="405.3" cy="195.3" r="1.1" fill="#000"/>
<circle cx="405.3" cy="200.5" r="1.1" fill="#000"/>
<circle cx="405.3" cy="204" r="1.1" fill="#000"/>
<circle cx="403.9" cy="211.8" r="1.1" fill="#000"/>
<circle cx="406.6" cy="212.7" r="1.1" fill="#000"/>
<circle cx="403.1" cy="217.9" r="1.1" fill="#000"/>
<circle cx="407.4" cy="217.9" r="1.1" fill="#000"/>
<circle cx="405.7" cy="220.6" r="1.1" fill="#000"/>
<circle cx="405.3" cy="225.8" r="1.1" fill="#000"/>
<circle cx="403.9" cy="231" r="1.1" fill="#000"/>
<circle cx="406.6" cy="231.5" r="1.1" fill="#000"/>
<circle cx="405.3" cy="238" r="1.1" fill="#000"/>
<line x1="405.5" y1="213.1" x2="405.5" y2="222.9" stroke="#111" stroke-width="1.0"/>
<line x1="403.0" y1="213.1" x2="408.0" y2="213.1" stroke="#111" stroke-width="1.0"/>
<line x1="403.0" y1="222.9" x2="408.0" y2="222.9" stroke="#111" stroke-width="1.0"/>
<line x1="405.5" y1="245.9" x2="405.5" y2="248.9" stroke="#333" stroke-width="0.9"/>
<rect x="417.4" y="211" width="10.600000000000023" height="34.900000000000006" fill="#a63745"/>
<circle cx="421" cy="177.9" r="1.1" fill="#000"/>
<circle cx="424" cy="180" r="1.1" fill="#000"/>
<circle cx="422.2" cy="196.2" r="1.1" fill="#000"/>
<circle cx="422.2" cy="212.7" r="1.1" fill="#000"/>
<circle cx="420.5" cy="219.7" r="1.1" fill="#000"/>
<circle cx="422.8" cy="219.7" r="1.1" fill="#000"/>
<circle cx="424" cy="222.8" r="1.1" fill="#000"/>
<circle cx="419.6" cy="223.2" r="1.1" fill="#000"/>
<circle cx="425.7" cy="222.8" r="1.1" fill="#000"/>
<circle cx="422.2" cy="226.7" r="1.1" fill="#000"/>
<circle cx="422.2" cy="233.6" r="1.1" fill="#000"/>
<line x1="422.7" y1="204" x2="422.7" y2="218" stroke="#111" stroke-width="1.0"/>
<line x1="420.2" y1="204" x2="425.2" y2="204" stroke="#111" stroke-width="1.0"/>
<line x1="420.2" y1="218" x2="425.2" y2="218" stroke="#111" stroke-width="1.0"/>
<line x1="422.7" y1="245.9" x2="422.7" y2="248.9" stroke="#333" stroke-width="0.9"/>
<rect x="437.7" y="225.8" width="10.600000000000023" height="20.099999999999994" fill="#4f6a91"/>
<circle cx="442.8" cy="214.8" r="1.1" fill="#000"/>
<circle cx="440.5" cy="217.9" r="1.1" fill="#000"/>
<circle cx="443.1" cy="217.1" r="1.1" fill="#000"/>
<circle cx="445.4" cy="217.6" r="1.1" fill="#000"/>
<circle cx="441.4" cy="224" r="1.1" fill="#000"/>
<circle cx="444" cy="223.2" r="1.1" fill="#000"/>
<circle cx="439.7" cy="227.5" r="1.1" fill="#000"/>
<circle cx="443.1" cy="227.5" r="1.1" fill="#000"/>
<circle cx="441.4" cy="230.1" r="1.1" fill="#000"/>
<circle cx="444.9" cy="230.1" r="1.1" fill="#000"/>
<circle cx="440.5" cy="232.8" r="1.1" fill="#000"/>
<circle cx="443.1" cy="234.5" r="1.1" fill="#000"/>
<line x1="443.0" y1="223.2" x2="443.0" y2="228.40000000000003" stroke="#111" stroke-width="1.0"/>
<line x1="440.5" y1="223.2" x2="445.5" y2="223.2" stroke="#111" stroke-width="1.0"/>
<line x1="440.5" y1="228.40000000000003" x2="445.5" y2="228.40000000000003" stroke="#111" stroke-width="1.0"/>
<line x1="443.0" y1="245.9" x2="443.0" y2="248.9" stroke="#333" stroke-width="0.9"/>
<rect x="454.9" y="220.9" width="10.600000000000023" height="25.0" fill="#a63745"/>
<circle cx="460.1" cy="191.7" r="1.1" fill="#000"/>
<circle cx="456.5" cy="213.6" r="1.1" fill="#000"/>
<circle cx="461.7" cy="212.6" r="1.1" fill="#000"/>
<circle cx="459.2" cy="215.7" r="1.1" fill="#000"/>
<circle cx="457.5" cy="223" r="1.1" fill="#000"/>
<circle cx="462.1" cy="223.7" r="1.1" fill="#000"/>
<circle cx="459.6" cy="226.2" r="1.1" fill="#000"/>
<circle cx="461.7" cy="228.3" r="1.1" fill="#000"/>
<circle cx="458.6" cy="232.4" r="1.1" fill="#000"/>
<circle cx="460.7" cy="234.1" r="1.1" fill="#000"/>
<circle cx="458.6" cy="218.9" r="1.1" fill="#000"/>
<line x1="460.2" y1="216.8" x2="460.2" y2="225.0" stroke="#111" stroke-width="1.0"/>
<line x1="457.7" y1="216.8" x2="462.7" y2="216.8" stroke="#111" stroke-width="1.0"/>
<line x1="457.7" y1="225.0" x2="462.7" y2="225.0" stroke="#111" stroke-width="1.0"/>
<line x1="460.2" y1="245.9" x2="460.2" y2="248.9" stroke="#333" stroke-width="0.9"/>
<text x="362.6" y="263.0" font-size="8.6" textLength="23.8" lengthAdjust="spacingAndGlyphs" fill="#231f20">NKG2A</text>
<text x="386.6" y="259.1" font-size="5.6" fill="#231f20">+</text>
<text x="370.4" y="272.7" font-size="8.6" textLength="10.4" lengthAdjust="spacingAndGlyphs" fill="#231f20">KIR</text>
<text x="381.0" y="268.8" font-size="5.6" fill="#231f20">-</text>
<text x="399.9" y="263.0" font-size="8.6" textLength="23.8" lengthAdjust="spacingAndGlyphs" fill="#231f20">NKG2A</text>
<text x="423.9" y="259.1" font-size="5.6" fill="#231f20">+</text>
<text x="407.7" y="272.7" font-size="8.6" textLength="10.4" lengthAdjust="spacingAndGlyphs" fill="#231f20">KIR</text>
<text x="418.3" y="268.8" font-size="5.6" fill="#231f20">+</text>
<text x="437.4" y="263.0" font-size="8.6" textLength="23.8" lengthAdjust="spacingAndGlyphs" fill="#231f20">NKG2A</text>
<text x="461.4" y="259.1" font-size="5.6" fill="#231f20">-</text>
<text x="445.2" y="272.7" font-size="8.6" textLength="10.4" lengthAdjust="spacingAndGlyphs" fill="#231f20">KIR</text>
<text x="455.8" y="268.8" font-size="5.6" fill="#231f20">+</text>
<text x="414" y="148.2" font-size="10.2" text-anchor="middle" textLength="15.4" lengthAdjust="spacingAndGlyphs" fill="#231f20" style="stroke-width:0.05px">TNF</text>
<text transform="translate(334.9 199.65) rotate(-90)" x="0" y="0" font-size="10.6" text-anchor="middle" textLength="41.9" lengthAdjust="spacingAndGlyphs" fill="#231f20">TNFa+ (%)</text>
<rect x="478.5" y="141.5" width="8.3" height="5.2" fill="#4f6a91"/>
<rect x="478.5" y="150.7" width="8.3" height="5.4" fill="#a63745"/>
<text x="490" y="147.3" font-size="8.8" textLength="11" lengthAdjust="spacingAndGlyphs" fill="#231f20" style="stroke-width:0.1">T/T</text>
<text x="490" y="156.5" font-size="8.8" textLength="11.9" lengthAdjust="spacingAndGlyphs" fill="#231f20" style="stroke-width:0.1">M/x</text>
<text x="478.5" y="203.2" font-size="10.4" textLength="31.4" lengthAdjust="spacingAndGlyphs" fill="#231f20">Unstim.</text>
<line x1="47" y1="285.4" x2="47" y2="377.90000000000003" stroke="#222" stroke-width="1.5"/>
<line x1="42.8" y1="377.3" x2="46.8" y2="377.3" stroke="#2e2e2e" stroke-width="1.0"/>
<text x="40.5" y="380.4" font-size="8.8" text-anchor="end" textLength="4.35" lengthAdjust="spacingAndGlyphs" fill="#231f20">0</text>
<line x1="42.8" y1="355.1" x2="46.8" y2="355.1" stroke="#2e2e2e" stroke-width="1.0"/>
<text x="40.5" y="358.2" font-size="8.8" text-anchor="end" textLength="8.69" lengthAdjust="spacingAndGlyphs" fill="#231f20">20</text>
<line x1="42.8" y1="332.9" x2="46.8" y2="332.9" stroke="#2e2e2e" stroke-width="1.0"/>
<text x="40.5" y="336.0" font-size="8.8" text-anchor="end" textLength="8.69" lengthAdjust="spacingAndGlyphs" fill="#231f20">40</text>
<line x1="42.8" y1="310.7" x2="46.8" y2="310.7" stroke="#2e2e2e" stroke-width="1.0"/>
<text x="40.5" y="313.8" font-size="8.8" text-anchor="end" textLength="8.69" lengthAdjust="spacingAndGlyphs" fill="#231f20">60</text>
<line x1="42.8" y1="288.5" x2="46.8" y2="288.5" stroke="#2e2e2e" stroke-width="1.0"/>
<text x="40.5" y="291.6" font-size="8.8" text-anchor="end" textLength="8.69" lengthAdjust="spacingAndGlyphs" fill="#231f20">80</text>
<line x1="43.7" y1="377.4" x2="162.4" y2="377.4" stroke="#222" stroke-width="1.1"/>
<rect x="52.9" y="333.1" width="10.600000000000001" height="44.19999999999999" fill="#4f6a91"/>
<circle cx="55.5" cy="316.6" r="1.1" fill="#000"/>
<circle cx="58.6" cy="318" r="1.1" fill="#000"/>
<circle cx="61" cy="317.5" r="1.1" fill="#000"/>
<circle cx="56.8" cy="326.7" r="1.1" fill="#000"/>
<circle cx="59.8" cy="327.9" r="1.1" fill="#000"/>
<circle cx="56.3" cy="335.4" r="1.1" fill="#000"/>
<circle cx="58.9" cy="337.5" r="1.1" fill="#000"/>
<circle cx="61.6" cy="338.4" r="1.1" fill="#000"/>
<circle cx="58.6" cy="346.5" r="1.1" fill="#000"/>
<circle cx="58.6" cy="352.8" r="1.1" fill="#000"/>
<line x1="58.2" y1="329.3" x2="58.2" y2="336.90000000000003" stroke="#111" stroke-width="1.0"/>
<line x1="55.7" y1="329.3" x2="60.7" y2="329.3" stroke="#111" stroke-width="1.0"/>
<line x1="55.7" y1="336.90000000000003" x2="60.7" y2="336.90000000000003" stroke="#111" stroke-width="1.0"/>
<line x1="58.2" y1="377.3" x2="58.2" y2="380.3" stroke="#333" stroke-width="0.9"/>
<rect x="70.1" y="321.5" width="10.600000000000009" height="55.80000000000001" fill="#a63745"/>
<circle cx="75.5" cy="300.9" r="1.1" fill="#000"/>
<circle cx="76.9" cy="308.2" r="1.1" fill="#000"/>
<circle cx="74.3" cy="311" r="1.1" fill="#000"/>
<circle cx="73.7" cy="321.8" r="1.1" fill="#000"/>
<circle cx="77.2" cy="322.3" r="1.1" fill="#000"/>
<circle cx="75.5" cy="327" r="1.1" fill="#000"/>
<circle cx="75.5" cy="335.4" r="1.1" fill="#000"/>
<circle cx="75.5" cy="343.1" r="1.1" fill="#000"/>
<line x1="75.4" y1="316.9" x2="75.4" y2="326.1" stroke="#111" stroke-width="1.0"/>
<line x1="72.9" y1="316.9" x2="77.9" y2="316.9" stroke="#111" stroke-width="1.0"/>
<line x1="72.9" y1="326.1" x2="77.9" y2="326.1" stroke="#111" stroke-width="1.0"/>
<line x1="75.4" y1="377.3" x2="75.4" y2="380.3" stroke="#333" stroke-width="0.9"/>
<rect x="90.2" y="330.5" width="10.599999999999994" height="46.80000000000001" fill="#4f6a91"/>
<circle cx="95.9" cy="311.4" r="1.1" fill="#000"/>
<circle cx="94.3" cy="317.5" r="1.1" fill="#000"/>
<circle cx="97.3" cy="316.6" r="1.1" fill="#000"/>
<circle cx="95.5" cy="322.2" r="1.1" fill="#000"/>
<circle cx="94.3" cy="326.7" r="1.1" fill="#000"/>
<circle cx="97.3" cy="328.8" r="1.1" fill="#000"/>
<circle cx="93.8" cy="335.7" r="1.1" fill="#000"/>
<circle cx="97.3" cy="336.6" r="1.1" fill="#000"/>
<circle cx="92" cy="338" r="1.1" fill="#000"/>
<circle cx="96.4" cy="341" r="1.1" fill="#000"/>
<circle cx="95.5" cy="344.8" r="1.1" fill="#000"/>
<line x1="95.5" y1="326.2" x2="95.5" y2="334.8" stroke="#111" stroke-width="1.0"/>
<line x1="93.0" y1="326.2" x2="98.0" y2="326.2" stroke="#111" stroke-width="1.0"/>
<line x1="93.0" y1="334.8" x2="98.0" y2="334.8" stroke="#111" stroke-width="1.0"/>
<line x1="95.5" y1="377.3" x2="95.5" y2="380.3" stroke="#333" stroke-width="0.9"/>
<rect x="107.4" y="320.9" width="10.599999999999994" height="56.400000000000034" fill="#a63745"/>
<circle cx="112.5" cy="300" r="1.1" fill="#000"/>
<circle cx="112.5" cy="304.7" r="1.1" fill="#000"/>
<circle cx="113.9" cy="314" r="1.1" fill="#000"/>
<circle cx="111.3" cy="315.7" r="1.1" fill="#000"/>
<circle cx="113.1" cy="321.8" r="1.1" fill="#000"/>
<circle cx="110.8" cy="323.6" r="1.1" fill="#000"/>
<circle cx="115.3" cy="323.6" r="1.1" fill="#000"/>
<circle cx="112.5" cy="327.9" r="1.1" fill="#000"/>
<circle cx="111.3" cy="334.9" r="1.1" fill="#000"/>
<circle cx="114.3" cy="334" r="1.1" fill="#000"/>
<line x1="112.7" y1="316.6" x2="112.7" y2="325.19999999999993" stroke="#111" stroke-width="1.0"/>
<line x1="110.2" y1="316.6" x2="115.2" y2="316.6" stroke="#111" stroke-width="1.0"/>
<line x1="110.2" y1="325.19999999999993" x2="115.2" y2="325.19999999999993" stroke="#111" stroke-width="1.0"/>
<line x1="112.7" y1="377.3" x2="112.7" y2="380.3" stroke="#333" stroke-width="0.9"/>
<rect x="127.7" y="346.7" width="10.600000000000009" height="30.600000000000023" fill="#4f6a91"/>
<circle cx="133.1" cy="329.3" r="1.1" fill="#000"/>
<circle cx="133.1" cy="335.4" r="1.1" fill="#000"/>
<circle cx="132.2" cy="339.2" r="1.1" fill="#000"/>
<circle cx="134.8" cy="340.1" r="1.1" fill="#000"/>
<circle cx="131" cy="347.1" r="1.1" fill="#000"/>
<circle cx="134" cy="346.2" r="1.1" fill="#000"/>
<circle cx="130.5" cy="348.8" r="1.1" fill="#000"/>
<circle cx="135.7" cy="348.8" r="1.1" fill="#000"/>
<circle cx="132.8" cy="351.1" r="1.1" fill="#000"/>
<circle cx="132.2" cy="354" r="1.1" fill="#000"/>
<circle cx="133.1" cy="356.7" r="1.1" fill="#000"/>
<circle cx="133.1" cy="359.8" r="1.1" fill="#000"/>
<line x1="133.0" y1="344.5" x2="133.0" y2="348.9" stroke="#111" stroke-width="1.0"/>
<line x1="130.5" y1="344.5" x2="135.5" y2="344.5" stroke="#111" stroke-width="1.0"/>
<line x1="130.5" y1="348.9" x2="135.5" y2="348.9" stroke="#111" stroke-width="1.0"/>
<line x1="133.0" y1="377.3" x2="133.0" y2="380.3" stroke="#333" stroke-width="0.9"/>
<rect x="144.9" y="338.4" width="10.599999999999994" height="38.900000000000034" fill="#a63745"/>
<circle cx="150.5" cy="315.7" r="1.1" fill="#000"/>
<circle cx="147.9" cy="335.4" r="1.1" fill="#000"/>
<circle cx="150.5" cy="334" r="1.1" fill="#000"/>
<circle cx="152.3" cy="335.7" r="1.1" fill="#000"/>
<circle cx="147" cy="340.1" r="1.1" fill="#000"/>
<circle cx="150.5" cy="341" r="1.1" fill="#000"/>
<circle cx="148.4" cy="343.6" r="1.1" fill="#000"/>
<circle cx="151.4" cy="343.6" r="1.1" fill="#000"/>
<circle cx="150.2" cy="353.5" r="1.1" fill="#000"/>
<line x1="150.2" y1="334.9" x2="150.2" y2="341.9" stroke="#111" stroke-width="1.0"/>
<line x1="147.7" y1="334.9" x2="152.7" y2="334.9" stroke="#111" stroke-width="1.0"/>
<line x1="147.7" y1="341.9" x2="152.7" y2="341.9" stroke="#111" stroke-width="1.0"/>
<line x1="150.2" y1="377.3" x2="150.2" y2="380.3" stroke="#333" stroke-width="0.9"/>
<line x1="56.3" y1="291.8" x2="74.6" y2="291.8" stroke="#333" stroke-width="1.0"/>
<circle cx="65.6" cy="287.7" r="1.1" fill="#333"/>
<line x1="95.5" y1="291.8" x2="113.6" y2="291.8" stroke="#333" stroke-width="1.0"/>
<circle cx="104.4" cy="287.7" r="1.1" fill="#333"/>
<text x="52.6" y="394.4" font-size="8.6" textLength="23.8" lengthAdjust="spacingAndGlyphs" fill="#231f20">NKG2A</text>
<text x="76.6" y="390.5" font-size="5.6" fill="#231f20">+</text>
<text x="60.4" y="404.1" font-size="8.6" textLength="10.4" lengthAdjust="spacingAndGlyphs" fill="#231f20">KIR</text>
<text x="71.0" y="400.2" font-size="5.6" fill="#231f20">-</text>
<text x="89.9" y="394.4" font-size="8.6" textLength="23.8" lengthAdjust="spacingAndGlyphs" fill="#231f20">NKG2A</text>
<text x="113.9" y="390.5" font-size="5.6" fill="#231f20">+</text>
<text x="97.7" y="404.1" font-size="8.6" textLength="10.4" lengthAdjust="spacingAndGlyphs" fill="#231f20">KIR</text>
<text x="108.3" y="400.2" font-size="5.6" fill="#231f20">+</text>
<text x="127.4" y="394.4" font-size="8.6" textLength="23.8" lengthAdjust="spacingAndGlyphs" fill="#231f20">NKG2A</text>
<text x="151.4" y="390.5" font-size="5.6" fill="#231f20">-</text>
<text x="135.2" y="404.1" font-size="8.6" textLength="10.4" lengthAdjust="spacingAndGlyphs" fill="#231f20">KIR</text>
<text x="145.8" y="400.2" font-size="5.6" fill="#231f20">+</text>
<text transform="translate(25.5 331.6) rotate(-90)" font-size="10.6" text-anchor="middle" fill="#231f20" textLength="53" lengthAdjust="spacingAndGlyphs">CD107a+ (%)</text>
<line x1="201.5" y1="286.1" x2="201.5" y2="377.90000000000003" stroke="#222" stroke-width="1.2"/>
<line x1="197.6" y1="377.6" x2="201.6" y2="377.6" stroke="#2e2e2e" stroke-width="1.0"/>
<text x="195.3" y="380.7" font-size="8.8" text-anchor="end" textLength="4.35" lengthAdjust="spacingAndGlyphs" fill="#231f20">0</text>
<line x1="197.6" y1="355.38" x2="201.6" y2="355.38" stroke="#2e2e2e" stroke-width="1.0"/>
<text x="195.3" y="358.48" font-size="8.8" text-anchor="end" textLength="8.69" lengthAdjust="spacingAndGlyphs" fill="#231f20">20</text>
<line x1="197.6" y1="333.16" x2="201.6" y2="333.16" stroke="#2e2e2e" stroke-width="1.0"/>
<text x="195.3" y="336.26" font-size="8.8" text-anchor="end" textLength="8.69" lengthAdjust="spacingAndGlyphs" fill="#231f20">40</text>
<line x1="197.6" y1="310.94" x2="201.6" y2="310.94" stroke="#2e2e2e" stroke-width="1.0"/>
<text x="195.3" y="314.04" font-size="8.8" text-anchor="end" textLength="8.69" lengthAdjust="spacingAndGlyphs" fill="#231f20">60</text>
<line x1="197.6" y1="288.72" x2="201.6" y2="288.72" stroke="#2e2e2e" stroke-width="1.0"/>
<text x="195.3" y="291.82" font-size="8.8" text-anchor="end" textLength="8.69" lengthAdjust="spacingAndGlyphs" fill="#231f20">80</text>
<line x1="198.2" y1="377.8" x2="316.8" y2="377.8" stroke="#222" stroke-width="1.5"/>
<rect x="207.7" y="351.1" width="10.600000000000023" height="26.19999999999999" fill="#4f6a91"/>
<circle cx="212.9" cy="324.9" r="1.1" fill="#000"/>
<circle cx="211.7" cy="331.9" r="1.1" fill="#000"/>
<circle cx="214.7" cy="331.4" r="1.1" fill="#000"/>
<circle cx="212.9" cy="336.1" r="1.1" fill="#000"/>
<circle cx="209.4" cy="356.7" r="1.1" fill="#000"/>
<circle cx="214.7" cy="354.6" r="1.1" fill="#000"/>
<circle cx="211.2" cy="359.3" r="1.1" fill="#000"/>
<circle cx="215.5" cy="358.7" r="1.1" fill="#000"/>
<circle cx="212" cy="361.9" r="1.1" fill="#000"/>
<circle cx="209.9" cy="363.6" r="1.1" fill="#000"/>
<circle cx="213.4" cy="364.5" r="1.1" fill="#000"/>
<circle cx="214.7" cy="365" r="1.1" fill="#000"/>
<line x1="213.0" y1="346.6" x2="213.0" y2="355.6" stroke="#111" stroke-width="1.0"/>
<line x1="210.5" y1="346.6" x2="215.5" y2="346.6" stroke="#111" stroke-width="1.0"/>
<line x1="210.5" y1="355.6" x2="215.5" y2="355.6" stroke="#111" stroke-width="1.0"/>
<line x1="213.0" y1="377.3" x2="213.0" y2="380.3" stroke="#333" stroke-width="0.9"/>
<rect x="224.9" y="337.1" width="10.599999999999994" height="40.19999999999999" fill="#a63745"/>
<circle cx="230.1" cy="300" r="1.1" fill="#000"/>
<circle cx="228.7" cy="319.7" r="1.1" fill="#000"/>
<circle cx="231.8" cy="319.2" r="1.1" fill="#000"/>
<circle cx="230.8" cy="340.1" r="1.1" fill="#000"/>
<circle cx="227.8" cy="347.1" r="1.1" fill="#000"/>
<circle cx="232.5" cy="346.7" r="1.1" fill="#000"/>
<circle cx="230.5" cy="349.7" r="1.1" fill="#000"/>
<circle cx="229.1" cy="354.9" r="1.1" fill="#000"/>
<circle cx="231.8" cy="354" r="1.1" fill="#000"/>
<line x1="230.2" y1="331.7" x2="230.2" y2="342.50000000000006" stroke="#111" stroke-width="1.0"/>
<line x1="227.7" y1="331.7" x2="232.7" y2="331.7" stroke="#111" stroke-width="1.0"/>
<line x1="227.7" y1="342.50000000000006" x2="232.7" y2="342.50000000000006" stroke="#111" stroke-width="1.0"/>
<line x1="230.2" y1="377.3" x2="230.2" y2="380.3" stroke="#333" stroke-width="0.9"/>
<rect x="245.0" y="350.6" width="10.599999999999994" height="26.69999999999999" fill="#4f6a91"/>
<circle cx="250.5" cy="330.5" r="1.1" fill="#000"/>
<circle cx="250.5" cy="336.6" r="1.1" fill="#000"/>
<circle cx="250.5" cy="341.3" r="1.1" fill="#000"/>
<circle cx="248.7" cy="344.8" r="1.1" fill="#000"/>
<circle cx="252.2" cy="345.3" r="1.1" fill="#000"/>
<circle cx="247.9" cy="347.6" r="1.1" fill="#000"/>
<circle cx="253.1" cy="347.1" r="1.1" fill="#000"/>
<circle cx="249.6" cy="351.8" r="1.1" fill="#000"/>
<circle cx="251" cy="355.8" r="1.1" fill="#000"/>
<circle cx="247.9" cy="361" r="1.1" fill="#000"/>
<circle cx="253.1" cy="360.1" r="1.1" fill="#000"/>
<circle cx="250.5" cy="361.9" r="1.1" fill="#000"/>
<circle cx="250.5" cy="367.1" r="1.1" fill="#000"/>
<line x1="250.3" y1="344.1" x2="250.3" y2="357.1" stroke="#111" stroke-width="1.0"/>
<line x1="247.8" y1="344.1" x2="252.8" y2="344.1" stroke="#111" stroke-width="1.0"/>
<line x1="247.8" y1="357.1" x2="252.8" y2="357.1" stroke="#111" stroke-width="1.0"/>
<line x1="250.3" y1="377.3" x2="250.3" y2="380.3" stroke="#333" stroke-width="0.9"/>
<rect x="262.2" y="338.9" width="10.600000000000023" height="38.400000000000034" fill="#a63745"/>
<circle cx="267.4" cy="312.2" r="1.1" fill="#000"/>
<circle cx="267.4" cy="327" r="1.1" fill="#000"/>
<circle cx="264.9" cy="331.4" r="1.1" fill="#000"/>
<circle cx="270.2" cy="332.3" r="1.1" fill="#000"/>
<circle cx="266.2" cy="340.1" r="1.1" fill="#000"/>
<circle cx="267" cy="341.8" r="1.1" fill="#000"/>
<circle cx="270.5" cy="343.6" r="1.1" fill="#000"/>
<circle cx="268.8" cy="346.2" r="1.1" fill="#000"/>
<circle cx="267.4" cy="352.8" r="1.1" fill="#000"/>
<circle cx="267.4" cy="358" r="1.1" fill="#000"/>
<line x1="267.5" y1="332.8" x2="267.5" y2="344.99999999999994" stroke="#111" stroke-width="1.0"/>
<line x1="265.0" y1="332.8" x2="270.0" y2="332.8" stroke="#111" stroke-width="1.0"/>
<line x1="265.0" y1="344.99999999999994" x2="270.0" y2="344.99999999999994" stroke="#111" stroke-width="1.0"/>
<line x1="267.5" y1="377.3" x2="267.5" y2="380.3" stroke="#333" stroke-width="0.9"/>
<rect x="282.5" y="356.7" width="10.600000000000023" height="20.600000000000023" fill="#4f6a91"/>
<circle cx="288.1" cy="338.9" r="1.1" fill="#000"/>
<circle cx="287.2" cy="345.3" r="1.1" fill="#000"/>
<circle cx="288.9" cy="349.7" r="1.1" fill="#000"/>
<circle cx="286.3" cy="354" r="1.1" fill="#000"/>
<circle cx="288.9" cy="354.9" r="1.1" fill="#000"/>
<circle cx="288.1" cy="358.4" r="1.1" fill="#000"/>
<circle cx="285.5" cy="364.5" r="1.1" fill="#000"/>
<circle cx="290.7" cy="364.5" r="1.1" fill="#000"/>
<circle cx="288.1" cy="366.2" r="1.1" fill="#000"/>
<circle cx="288.1" cy="370.6" r="1.1" fill="#000"/>
<line x1="287.8" y1="354" x2="287.8" y2="359.4" stroke="#111" stroke-width="1.0"/>
<line x1="285.3" y1="354" x2="290.3" y2="354" stroke="#111" stroke-width="1.0"/>
<line x1="285.3" y1="359.4" x2="290.3" y2="359.4" stroke="#111" stroke-width="1.0"/>
<line x1="287.8" y1="377.3" x2="287.8" y2="380.3" stroke="#333" stroke-width="0.9"/>
<rect x="299.7" y="350" width="10.600000000000023" height="27.30000000000001" fill="#a63745"/>
<circle cx="303.7" cy="332.3" r="1.1" fill="#000"/>
<circle cx="306.7" cy="333.7" r="1.1" fill="#000"/>
<circle cx="305" cy="339.2" r="1.1" fill="#000"/>
<circle cx="303.7" cy="352.3" r="1.1" fill="#000"/>
<circle cx="307.2" cy="351.4" r="1.1" fill="#000"/>
<circle cx="302.5" cy="355.8" r="1.1" fill="#000"/>
<circle cx="305.5" cy="356.7" r="1.1" fill="#000"/>
<circle cx="307.8" cy="356.3" r="1.1" fill="#000"/>
<circle cx="306.4" cy="360.1" r="1.1" fill="#000"/>
<circle cx="303.7" cy="363.6" r="1.1" fill="#000"/>
<line x1="305.0" y1="346.7" x2="305.0" y2="353.3" stroke="#111" stroke-width="1.0"/>
<line x1="302.5" y1="346.7" x2="307.5" y2="346.7" stroke="#111" stroke-width="1.0"/>
<line x1="302.5" y1="353.3" x2="307.5" y2="353.3" stroke="#111" stroke-width="1.0"/>
<line x1="305.0" y1="377.3" x2="305.0" y2="380.3" stroke="#333" stroke-width="0.9"/>
<line x1="212" y1="291.8" x2="228.4" y2="291.8" stroke="#333" stroke-width="1.0"/>
<circle cx="220.4" cy="287.7" r="1.1" fill="#333"/>
<line x1="251.4" y1="291.8" x2="269.7" y2="291.8" stroke="#333" stroke-width="1.0"/>
<circle cx="260.4" cy="287.7" r="1.1" fill="#333"/>
<text x="207.4" y="394.4" font-size="8.6" textLength="23.8" lengthAdjust="spacingAndGlyphs" fill="#231f20">NKG2A</text>
<text x="231.4" y="390.5" font-size="5.6" fill="#231f20">+</text>
<text x="215.2" y="404.1" font-size="8.6" textLength="10.4" lengthAdjust="spacingAndGlyphs" fill="#231f20">KIR</text>
<text x="225.8" y="400.2" font-size="5.6" fill="#231f20">-</text>
<text x="244.7" y="394.4" font-size="8.6" textLength="23.8" lengthAdjust="spacingAndGlyphs" fill="#231f20">NKG2A</text>
<text x="268.7" y="390.5" font-size="5.6" fill="#231f20">+</text>
<text x="252.5" y="404.1" font-size="8.6" textLength="10.4" lengthAdjust="spacingAndGlyphs" fill="#231f20">KIR</text>
<text x="263.1" y="400.2" font-size="5.6" fill="#231f20">+</text>
<text x="282.2" y="394.4" font-size="8.6" textLength="23.8" lengthAdjust="spacingAndGlyphs" fill="#231f20">NKG2A</text>
<text x="306.2" y="390.5" font-size="5.6" fill="#231f20">-</text>
<text x="290.0" y="404.1" font-size="8.6" textLength="10.4" lengthAdjust="spacingAndGlyphs" fill="#231f20">KIR</text>
<text x="300.6" y="400.2" font-size="5.6" fill="#231f20">+</text>
<text transform="translate(181.3 331.85) rotate(-90)" x="0" y="0" font-size="10.6" text-anchor="middle" textLength="67.1" lengthAdjust="spacingAndGlyphs" fill="#231f20">IFNgamma+ (%)</text>
<line x1="356.5" y1="285.6" x2="356.5" y2="377.90000000000003" stroke="#222" stroke-width="1.2"/>
<line x1="352.8" y1="377.2" x2="356.8" y2="377.2" stroke="#2e2e2e" stroke-width="1.0"/>
<text x="350.5" y="380.3" font-size="8.8" text-anchor="end" textLength="4.35" lengthAdjust="spacingAndGlyphs" fill="#231f20">0</text>
<line x1="352.8" y1="359.44" x2="356.8" y2="359.44" stroke="#2e2e2e" stroke-width="1.0"/>
<text x="350.5" y="362.54" font-size="8.8" text-anchor="end" textLength="8.69" lengthAdjust="spacingAndGlyphs" fill="#231f20">10</text>
<line x1="352.8" y1="341.68" x2="356.8" y2="341.68" stroke="#2e2e2e" stroke-width="1.0"/>
<text x="350.5" y="344.78" font-size="8.8" text-anchor="end" textLength="8.69" lengthAdjust="spacingAndGlyphs" fill="#231f20">20</text>
<line x1="352.8" y1="323.92" x2="356.8" y2="323.92" stroke="#2e2e2e" stroke-width="1.0"/>
<text x="350.5" y="327.02" font-size="8.8" text-anchor="end" textLength="8.69" lengthAdjust="spacingAndGlyphs" fill="#231f20">30</text>
<line x1="352.8" y1="306.16" x2="356.8" y2="306.16" stroke="#2e2e2e" stroke-width="1.0"/>
<text x="350.5" y="309.26" font-size="8.8" text-anchor="end" textLength="8.69" lengthAdjust="spacingAndGlyphs" fill="#231f20">40</text>
<line x1="352.8" y1="288.4" x2="356.8" y2="288.4" stroke="#2e2e2e" stroke-width="1.0"/>
<text x="350.5" y="291.5" font-size="8.8" text-anchor="end" textLength="8.69" lengthAdjust="spacingAndGlyphs" fill="#231f20">50</text>
<line x1="353" y1="377.4" x2="471.3" y2="377.4" stroke="#222" stroke-width="1.1"/>
<rect x="362.9" y="353.2" width="10.600000000000023" height="24.100000000000023" fill="#4f6a91"/>
<circle cx="367.8" cy="309.6" r="1.1" fill="#000"/>
<circle cx="367.8" cy="336.3" r="1.1" fill="#000"/>
<circle cx="366.4" cy="344.1" r="1.1" fill="#000"/>
<circle cx="369.5" cy="345.9" r="1.1" fill="#000"/>
<circle cx="365.5" cy="354.9" r="1.1" fill="#000"/>
<circle cx="369" cy="354.9" r="1.1" fill="#000"/>
<circle cx="367.2" cy="357.5" r="1.1" fill="#000"/>
<circle cx="371.6" cy="359.3" r="1.1" fill="#000"/>
<circle cx="364.6" cy="365.4" r="1.1" fill="#000"/>
<circle cx="369.8" cy="365" r="1.1" fill="#000"/>
<circle cx="367.2" cy="367.1" r="1.1" fill="#000"/>
<circle cx="366.4" cy="369.2" r="1.1" fill="#000"/>
<line x1="368.2" y1="348.3" x2="368.2" y2="358.09999999999997" stroke="#111" stroke-width="1.0"/>
<line x1="365.7" y1="348.3" x2="370.7" y2="348.3" stroke="#111" stroke-width="1.0"/>
<line x1="365.7" y1="358.09999999999997" x2="370.7" y2="358.09999999999997" stroke="#111" stroke-width="1.0"/>
<line x1="368.2" y1="377.3" x2="368.2" y2="380.3" stroke="#333" stroke-width="0.9"/>
<rect x="380.1" y="357.2" width="10.599999999999966" height="20.100000000000023" fill="#a63745"/>
<circle cx="383.8" cy="341.3" r="1.1" fill="#000"/>
<circle cx="386.4" cy="340.1" r="1.1" fill="#000"/>
<circle cx="382" cy="350" r="1.1" fill="#000"/>
<circle cx="385.2" cy="350.6" r="1.1" fill="#000"/>
<circle cx="388.1" cy="349.3" r="1.1" fill="#000"/>
<circle cx="382.9" cy="360.1" r="1.1" fill="#000"/>
<circle cx="387.3" cy="360.1" r="1.1" fill="#000"/>
<circle cx="385.5" cy="365.4" r="1.1" fill="#000"/>
<circle cx="384.1" cy="371.5" r="1.1" fill="#000"/>
<circle cx="386.4" cy="369.7" r="1.1" fill="#000"/>
<line x1="385.4" y1="353.2" x2="385.4" y2="361.2" stroke="#111" stroke-width="1.0"/>
<line x1="382.9" y1="353.2" x2="387.9" y2="353.2" stroke="#111" stroke-width="1.0"/>
<line x1="382.9" y1="361.2" x2="387.9" y2="361.2" stroke="#111" stroke-width="1.0"/>
<line x1="385.4" y1="377.3" x2="385.4" y2="380.3" stroke="#333" stroke-width="0.9"/>
<rect x="400.2" y="360.1" width="10.600000000000023" height="17.19999999999999" fill="#4f6a91"/>
<circle cx="405.3" cy="334" r="1.1" fill="#000"/>
<circle cx="405.3" cy="337.5" r="1.1" fill="#000"/>
<circle cx="405.3" cy="347.9" r="1.1" fill="#000"/>
<circle cx="405.3" cy="354.6" r="1.1" fill="#000"/>
<circle cx="403.1" cy="363.3" r="1.1" fill="#000"/>
<circle cx="406.6" cy="361.9" r="1.1" fill="#000"/>
<circle cx="402.2" cy="365.7" r="1.1" fill="#000"/>
<circle cx="408.3" cy="365.7" r="1.1" fill="#000"/>
<circle cx="404.8" cy="368" r="1.1" fill="#000"/>
<circle cx="403.6" cy="370.6" r="1.1" fill="#000"/>
<circle cx="407.4" cy="370.6" r="1.1" fill="#000"/>
<line x1="405.5" y1="356.3" x2="405.5" y2="363.90000000000003" stroke="#111" stroke-width="1.0"/>
<line x1="403.0" y1="356.3" x2="408.0" y2="356.3" stroke="#111" stroke-width="1.0"/>
<line x1="403.0" y1="363.90000000000003" x2="408.0" y2="363.90000000000003" stroke="#111" stroke-width="1.0"/>
<line x1="405.5" y1="377.3" x2="405.5" y2="380.3" stroke="#333" stroke-width="0.9"/>
<rect x="417.4" y="353.7" width="10.600000000000023" height="23.600000000000023" fill="#a63745"/>
<circle cx="422.2" cy="337.8" r="1.1" fill="#000"/>
<circle cx="422.2" cy="341" r="1.1" fill="#000"/>
<circle cx="419.6" cy="344.5" r="1.1" fill="#000"/>
<circle cx="424.8" cy="344.1" r="1.1" fill="#000"/>
<circle cx="422.8" cy="352.3" r="1.1" fill="#000"/>
<circle cx="420.5" cy="357.5" r="1.1" fill="#000"/>
<circle cx="423.1" cy="360.5" r="1.1" fill="#000"/>
<circle cx="420.5" cy="370.6" r="1.1" fill="#000"/>
<circle cx="424" cy="370.6" r="1.1" fill="#000"/>
<line x1="422.7" y1="349.7" x2="422.7" y2="357.7" stroke="#111" stroke-width="1.0"/>
<line x1="420.2" y1="349.7" x2="425.2" y2="349.7" stroke="#111" stroke-width="1.0"/>
<line x1="420.2" y1="357.7" x2="425.2" y2="357.7" stroke="#111" stroke-width="1.0"/>
<line x1="422.7" y1="377.3" x2="422.7" y2="380.3" stroke="#333" stroke-width="0.9"/>
<rect x="437.7" y="365" width="10.600000000000023" height="12.300000000000011" fill="#4f6a91"/>
<circle cx="442.8" cy="344.8" r="1.1" fill="#000"/>
<circle cx="442.8" cy="355.3" r="1.1" fill="#000"/>
<circle cx="442.8" cy="359.3" r="1.1" fill="#000"/>
<circle cx="440.5" cy="365.4" r="1.1" fill="#000"/>
<circle cx="444.9" cy="365" r="1.1" fill="#000"/>
<circle cx="443.1" cy="366.8" r="1.1" fill="#000"/>
<circle cx="440.5" cy="369.7" r="1.1" fill="#000"/>
<circle cx="444.9" cy="370.6" r="1.1" fill="#000"/>
<circle cx="442.3" cy="372.3" r="1.1" fill="#000"/>
<line x1="443.0" y1="361.9" x2="443.0" y2="368.1" stroke="#111" stroke-width="1.0"/>
<line x1="440.5" y1="361.9" x2="445.5" y2="361.9" stroke="#111" stroke-width="1.0"/>
<line x1="440.5" y1="368.1" x2="445.5" y2="368.1" stroke="#111" stroke-width="1.0"/>
<line x1="443.0" y1="377.3" x2="443.0" y2="380.3" stroke="#333" stroke-width="0.9"/>
<rect x="454.9" y="361.2" width="10.600000000000023" height="16.100000000000023" fill="#a63745"/>
<circle cx="457.2" cy="350.7" r="1.1" fill="#000"/>
<circle cx="460.1" cy="350.7" r="1.1" fill="#000"/>
<circle cx="462.6" cy="350.2" r="1.1" fill="#000"/>
<circle cx="460.9" cy="356.1" r="1.1" fill="#000"/>
<circle cx="458.4" cy="358.5" r="1.1" fill="#000"/>
<circle cx="462.1" cy="361.7" r="1.1" fill="#000"/>
<circle cx="459.6" cy="364.1" r="1.1" fill="#000"/>
<circle cx="462.1" cy="366.6" r="1.1" fill="#000"/>
<circle cx="458.4" cy="372.7" r="1.1" fill="#000"/>
<circle cx="460.9" cy="372.2" r="1.1" fill="#000"/>
<line x1="460.2" y1="357.6" x2="460.2" y2="364.79999999999995" stroke="#111" stroke-width="1.0"/>
<line x1="457.7" y1="357.6" x2="462.7" y2="357.6" stroke="#111" stroke-width="1.0"/>
<line x1="457.7" y1="364.79999999999995" x2="462.7" y2="364.79999999999995" stroke="#111" stroke-width="1.0"/>
<line x1="460.2" y1="377.3" x2="460.2" y2="380.3" stroke="#333" stroke-width="0.9"/>
<text x="362.6" y="394.4" font-size="8.6" textLength="23.8" lengthAdjust="spacingAndGlyphs" fill="#231f20">NKG2A</text>
<text x="386.6" y="390.5" font-size="5.6" fill="#231f20">+</text>
<text x="370.4" y="404.1" font-size="8.6" textLength="10.4" lengthAdjust="spacingAndGlyphs" fill="#231f20">KIR</text>
<text x="381.0" y="400.2" font-size="5.6" fill="#231f20">-</text>
<text x="399.9" y="394.4" font-size="8.6" textLength="23.8" lengthAdjust="spacingAndGlyphs" fill="#231f20">NKG2A</text>
<text x="423.9" y="390.5" font-size="5.6" fill="#231f20">+</text>
<text x="407.7" y="404.1" font-size="8.6" textLength="10.4" lengthAdjust="spacingAndGlyphs" fill="#231f20">KIR</text>
<text x="418.3" y="400.2" font-size="5.6" fill="#231f20">+</text>
<text x="437.4" y="394.4" font-size="8.6" textLength="23.8" lengthAdjust="spacingAndGlyphs" fill="#231f20">NKG2A</text>
<text x="461.4" y="390.5" font-size="5.6" fill="#231f20">-</text>
<text x="445.2" y="404.1" font-size="8.6" textLength="10.4" lengthAdjust="spacingAndGlyphs" fill="#231f20">KIR</text>
<text x="455.8" y="400.2" font-size="5.6" fill="#231f20">+</text>
<text transform="translate(334.9 330.95) rotate(-90)" x="0" y="0" font-size="10.6" text-anchor="middle" textLength="40.9" lengthAdjust="spacingAndGlyphs" fill="#231f20">TNFa+ (%)</text>
<text x="478.7" y="334.8" font-size="10.4" textLength="14.6" lengthAdjust="spacingAndGlyphs" fill="#231f20">IL-2</text>
<line x1="34" y1="413.5" x2="486" y2="413.5" stroke="#222" stroke-width="1.2"/>
<line x1="47" y1="444" x2="47" y2="541.6" stroke="#222" stroke-width="1.5"/>
<line x1="42.9" y1="541.0" x2="46.9" y2="541.0" stroke="#2e2e2e" stroke-width="1.0"/>
<text x="40.6" y="544.1" font-size="8.8" text-anchor="end" textLength="4.35" lengthAdjust="spacingAndGlyphs" fill="#231f20">0</text>
<line x1="42.9" y1="517.5" x2="46.9" y2="517.5" stroke="#2e2e2e" stroke-width="1.0"/>
<text x="40.6" y="520.6" font-size="8.8" text-anchor="end" textLength="8.69" lengthAdjust="spacingAndGlyphs" fill="#231f20">10</text>
<line x1="42.9" y1="494.0" x2="46.9" y2="494.0" stroke="#2e2e2e" stroke-width="1.0"/>
<text x="40.6" y="497.1" font-size="8.8" text-anchor="end" textLength="8.69" lengthAdjust="spacingAndGlyphs" fill="#231f20">20</text>
<line x1="42.9" y1="470.5" x2="46.9" y2="470.5" stroke="#2e2e2e" stroke-width="1.0"/>
<text x="40.6" y="473.6" font-size="8.8" text-anchor="end" textLength="8.69" lengthAdjust="spacingAndGlyphs" fill="#231f20">30</text>
<line x1="42.9" y1="447.0" x2="46.9" y2="447.0" stroke="#2e2e2e" stroke-width="1.0"/>
<text x="40.6" y="450.1" font-size="8.8" text-anchor="end" textLength="8.69" lengthAdjust="spacingAndGlyphs" fill="#231f20">40</text>
<line x1="43.7" y1="541.4" x2="168.4" y2="541.4" stroke="#222" stroke-width="1.1"/>
<line x1="62.05" y1="512.6" x2="62.05" y2="515.5" stroke="#333" stroke-width="1.0"/>
<line x1="62.05" y1="522.4" x2="62.05" y2="525.3" stroke="#333" stroke-width="1.0"/>
<line x1="58.449999999999996" y1="512.6" x2="65.64999999999999" y2="512.6" stroke="#333" stroke-width="1.1"/>
<line x1="58.449999999999996" y1="525.3" x2="65.64999999999999" y2="525.3" stroke="#333" stroke-width="1.1"/>
<rect x="55.25" y="515.75" width="13.6" height="6.4" fill="#4f6a91" stroke="#34496a" stroke-width="0.5"/>
<line x1="55" y1="518.6" x2="69.1" y2="518.6" stroke="#1a1a1a" stroke-width="1.3"/>
<line x1="84.85" y1="505.7" x2="84.85" y2="507.4" stroke="#333" stroke-width="1.0"/>
<line x1="84.85" y1="521.2" x2="84.85" y2="526.4" stroke="#333" stroke-width="1.0"/>
<line x1="81.25" y1="505.7" x2="88.44999999999999" y2="505.7" stroke="#333" stroke-width="1.1"/>
<line x1="81.25" y1="526.4" x2="88.44999999999999" y2="526.4" stroke="#333" stroke-width="1.1"/>
<rect x="78.05" y="507.65" width="13.6" height="13.3" fill="#a63745" stroke="#7a2232" stroke-width="0.5"/>
<line x1="77.8" y1="509.5" x2="91.9" y2="509.5" stroke="#1a1a1a" stroke-width="1.3"/>
<line x1="130.15" y1="469.9" x2="130.15" y2="476.9" stroke="#333" stroke-width="1.0"/>
<line x1="130.15" y1="502.6" x2="130.15" y2="508.9" stroke="#333" stroke-width="1.0"/>
<line x1="126.4" y1="469.9" x2="133.9" y2="469.9" stroke="#333" stroke-width="1.1"/>
<line x1="126.4" y1="508.9" x2="133.9" y2="508.9" stroke="#333" stroke-width="1.1"/>
<rect x="123.05" y="477.15" width="14.2" height="25.2" fill="#4f6a91" stroke="#34496a" stroke-width="0.5"/>
<line x1="122.8" y1="481.5" x2="137.5" y2="481.5" stroke="#1a1a1a" stroke-width="1.3"/>
<line x1="152.85" y1="453.5" x2="152.85" y2="460.5" stroke="#333" stroke-width="1.0"/>
<line x1="152.85" y1="483.2" x2="152.85" y2="503.5" stroke="#333" stroke-width="1.0"/>
<line x1="148.75" y1="453.5" x2="156.95" y2="453.5" stroke="#333" stroke-width="1.1"/>
<line x1="148.75" y1="503.5" x2="156.95" y2="503.5" stroke="#333" stroke-width="1.1"/>
<rect x="145.75" y="460.75" width="14.2" height="22.2" fill="#a63745" stroke="#7a2232" stroke-width="0.5"/>
<line x1="145.5" y1="463.8" x2="160.2" y2="463.8" stroke="#1a1a1a" stroke-width="1.3"/>
<line x1="131.5" y1="445.8" x2="152.5" y2="445.8" stroke="#333" stroke-width="1.0"/>
<circle cx="142.2" cy="441.7" r="1.1" fill="#333"/>
<text x="61.8" y="551.9" font-size="8.4" text-anchor="middle" textLength="11.2" lengthAdjust="spacingAndGlyphs" fill="#231f20">T/T</text>
<text x="84.7" y="551.9" font-size="8.4" text-anchor="middle" textLength="13.8" lengthAdjust="spacingAndGlyphs" fill="#231f20">M/x</text>
<text x="130.3" y="551.9" font-size="8.4" text-anchor="middle" textLength="11.6" lengthAdjust="spacingAndGlyphs" fill="#231f20">T/T</text>
<text x="152.85" y="551.9" font-size="8.4" text-anchor="middle" textLength="13.3" lengthAdjust="spacingAndGlyphs" fill="#231f20">M/x</text>
<text x="73.9" y="563.6" font-size="8.4" text-anchor="middle" textLength="25.0" lengthAdjust="spacingAndGlyphs" fill="#231f20">Unstim</text>
<text x="141.95" y="563.6" font-size="8.4" text-anchor="middle" textLength="11.7" lengthAdjust="spacingAndGlyphs" fill="#231f20">IL-2</text>
<text x="177.0" y="432.9" font-size="10.3" text-anchor="middle" textLength="65.1" lengthAdjust="spacingAndGlyphs" fill="#231f20">AML blast assay</text>
<text transform="translate(26.6 519.6) rotate(-90)" font-size="10.6" fill="#231f20" textLength="32.2" lengthAdjust="spacingAndGlyphs">CD107a</text>
<text transform="translate(23.2 487.0) rotate(-90)" font-size="6.5" fill="#231f20">+</text>
<text transform="translate(26.6 465.6) rotate(-90)" font-size="10.6" text-anchor="end" fill="#231f20" textLength="12.8" lengthAdjust="spacingAndGlyphs">(%)</text>
<line x1="217.5" y1="443.6" x2="217.5" y2="541.6" stroke="#222" stroke-width="1.2"/>
<line x1="213.2" y1="541.0" x2="217.2" y2="541.0" stroke="#2e2e2e" stroke-width="1.0"/>
<text x="210.9" y="543.68" font-size="7.6" text-anchor="end" textLength="3.75" lengthAdjust="spacingAndGlyphs" fill="#231f20">0</text>
<line x1="213.2" y1="509.63" x2="217.2" y2="509.63" stroke="#2e2e2e" stroke-width="1.0"/>
<text x="210.9" y="512.31" font-size="7.6" text-anchor="end" textLength="7.51" lengthAdjust="spacingAndGlyphs" fill="#231f20">20</text>
<line x1="213.2" y1="478.27" x2="217.2" y2="478.27" stroke="#2e2e2e" stroke-width="1.0"/>
<text x="210.9" y="480.95" font-size="7.6" text-anchor="end" textLength="7.51" lengthAdjust="spacingAndGlyphs" fill="#231f20">40</text>
<line x1="213.2" y1="446.9" x2="217.2" y2="446.9" stroke="#2e2e2e" stroke-width="1.0"/>
<text x="210.9" y="449.58" font-size="7.6" text-anchor="end" textLength="7.51" lengthAdjust="spacingAndGlyphs" fill="#231f20">60</text>
<line x1="214.2" y1="541.2" x2="340.2" y2="541.2" stroke="#222" stroke-width="1.3"/>
<rect x="224.4" y="508.8" width="11.0" height="32.19999999999999" fill="#4f6a91"/>
<circle cx="229.6" cy="491.5" r="1.1" fill="#000"/>
<circle cx="227.7" cy="496.3" r="1.1" fill="#000"/>
<circle cx="231.5" cy="497.3" r="1.1" fill="#000"/>
<circle cx="230.2" cy="503" r="1.1" fill="#000"/>
<circle cx="228.7" cy="509.4" r="1.1" fill="#000"/>
<circle cx="227.7" cy="511.7" r="1.1" fill="#000"/>
<circle cx="231.5" cy="511.7" r="1.1" fill="#000"/>
<circle cx="230.6" cy="514" r="1.1" fill="#000"/>
<circle cx="228.3" cy="525.5" r="1.1" fill="#000"/>
<circle cx="231" cy="525.5" r="1.1" fill="#000"/>
<line x1="229.9" y1="505" x2="229.9" y2="512.6" stroke="#111" stroke-width="1.0"/>
<line x1="227.4" y1="505" x2="232.4" y2="505" stroke="#111" stroke-width="1.0"/>
<line x1="227.4" y1="512.6" x2="232.4" y2="512.6" stroke="#111" stroke-width="1.0"/>
<line x1="229.9" y1="541.0" x2="229.9" y2="544.0" stroke="#333" stroke-width="0.9"/>
<rect x="242.55" y="493.1" width="11.0" height="47.89999999999998" fill="#a63745"/>
<circle cx="247.6" cy="467.6" r="1.1" fill="#000"/>
<circle cx="247.6" cy="476.2" r="1.1" fill="#000"/>
<circle cx="247.6" cy="482" r="1.1" fill="#000"/>
<circle cx="247.6" cy="488.7" r="1.1" fill="#000"/>
<circle cx="245.3" cy="496.7" r="1.1" fill="#000"/>
<circle cx="250.1" cy="497.3" r="1.1" fill="#000"/>
<circle cx="247.6" cy="498.2" r="1.1" fill="#000"/>
<circle cx="246.3" cy="505" r="1.1" fill="#000"/>
<circle cx="249.2" cy="505.5" r="1.1" fill="#000"/>
<circle cx="247.6" cy="512.6" r="1.1" fill="#000"/>
<line x1="248.05" y1="488.7" x2="248.05" y2="497.50000000000006" stroke="#111" stroke-width="1.0"/>
<line x1="245.55" y1="488.7" x2="250.55" y2="488.7" stroke="#111" stroke-width="1.0"/>
<line x1="245.55" y1="497.50000000000006" x2="250.55" y2="497.50000000000006" stroke="#111" stroke-width="1.0"/>
<line x1="248.05" y1="541.0" x2="248.05" y2="544.0" stroke="#333" stroke-width="0.9"/>
<rect x="264.05" y="504" width="11.0" height="37.0" fill="#4f6a91"/>
<circle cx="266.4" cy="487.1" r="1.1" fill="#000"/>
<circle cx="269.3" cy="489" r="1.1" fill="#000"/>
<circle cx="272.2" cy="486.7" r="1.1" fill="#000"/>
<circle cx="269.3" cy="497.3" r="1.1" fill="#000"/>
<circle cx="267.4" cy="500.2" r="1.1" fill="#000"/>
<circle cx="270.6" cy="502.1" r="1.1" fill="#000"/>
<circle cx="269.3" cy="507.8" r="1.1" fill="#000"/>
<circle cx="270.2" cy="517" r="1.1" fill="#000"/>
<circle cx="270.6" cy="520.3" r="1.1" fill="#000"/>
<circle cx="267.9" cy="523.2" r="1.1" fill="#000"/>
<line x1="269.55" y1="498.6" x2="269.55" y2="509.4" stroke="#111" stroke-width="1.0"/>
<line x1="267.05" y1="498.6" x2="272.05" y2="498.6" stroke="#111" stroke-width="1.0"/>
<line x1="267.05" y1="509.4" x2="272.05" y2="509.4" stroke="#111" stroke-width="1.0"/>
<line x1="269.55" y1="541.0" x2="269.55" y2="544.0" stroke="#333" stroke-width="0.9"/>
<rect x="281.8" y="492.5" width="11.0" height="48.5" fill="#a63745"/>
<circle cx="287.1" cy="460.3" r="1.1" fill="#000"/>
<circle cx="287.1" cy="472.4" r="1.1" fill="#000"/>
<circle cx="287.1" cy="479.5" r="1.1" fill="#000"/>
<circle cx="287.1" cy="489.6" r="1.1" fill="#000"/>
<circle cx="285.2" cy="496.3" r="1.1" fill="#000"/>
<circle cx="288.5" cy="498.6" r="1.1" fill="#000"/>
<circle cx="287.1" cy="503" r="1.1" fill="#000"/>
<circle cx="285.6" cy="511.7" r="1.1" fill="#000"/>
<circle cx="288.5" cy="510.7" r="1.1" fill="#000"/>
<line x1="287.3" y1="487.1" x2="287.3" y2="497.9" stroke="#111" stroke-width="1.0"/>
<line x1="284.8" y1="487.1" x2="289.8" y2="487.1" stroke="#111" stroke-width="1.0"/>
<line x1="284.8" y1="497.9" x2="289.8" y2="497.9" stroke="#111" stroke-width="1.0"/>
<line x1="287.3" y1="541.0" x2="287.3" y2="544.0" stroke="#333" stroke-width="0.9"/>
<rect x="303.35" y="515.9" width="11.0" height="25.100000000000023" fill="#4f6a91"/>
<circle cx="308.8" cy="495.4" r="1.1" fill="#000"/>
<circle cx="308.8" cy="499.2" r="1.1" fill="#000"/>
<circle cx="308.8" cy="505.5" r="1.1" fill="#000"/>
<circle cx="305.3" cy="517.8" r="1.1" fill="#000"/>
<circle cx="308.2" cy="518.4" r="1.1" fill="#000"/>
<circle cx="312" cy="517.8" r="1.1" fill="#000"/>
<circle cx="306.9" cy="523.5" r="1.1" fill="#000"/>
<circle cx="311.1" cy="523.2" r="1.1" fill="#000"/>
<circle cx="308.8" cy="534.3" r="1.1" fill="#000"/>
<line x1="308.85" y1="511.7" x2="308.85" y2="520.0999999999999" stroke="#111" stroke-width="1.0"/>
<line x1="306.35" y1="511.7" x2="311.35" y2="511.7" stroke="#111" stroke-width="1.0"/>
<line x1="306.35" y1="520.0999999999999" x2="311.35" y2="520.0999999999999" stroke="#111" stroke-width="1.0"/>
<line x1="308.85" y1="541.0" x2="308.85" y2="544.0" stroke="#333" stroke-width="0.9"/>
<rect x="321.55" y="515.5" width="11.0" height="25.5" fill="#a63745"/>
<circle cx="326.8" cy="476.2" r="1.1" fill="#000"/>
<circle cx="326.8" cy="506.3" r="1.1" fill="#000"/>
<circle cx="325.5" cy="510.1" r="1.1" fill="#000"/>
<circle cx="328.3" cy="511.3" r="1.1" fill="#000"/>
<circle cx="324.1" cy="517.4" r="1.1" fill="#000"/>
<circle cx="329.3" cy="519.3" r="1.1" fill="#000"/>
<circle cx="327.4" cy="521.2" r="1.1" fill="#000"/>
<circle cx="324.1" cy="528.5" r="1.1" fill="#000"/>
<circle cx="326.8" cy="530.4" r="1.1" fill="#000"/>
<circle cx="329.9" cy="529.3" r="1.1" fill="#000"/>
<line x1="327.05" y1="509.7" x2="327.05" y2="521.3" stroke="#111" stroke-width="1.0"/>
<line x1="324.55" y1="509.7" x2="329.55" y2="509.7" stroke="#111" stroke-width="1.0"/>
<line x1="324.55" y1="521.3" x2="329.55" y2="521.3" stroke="#111" stroke-width="1.0"/>
<line x1="327.05" y1="541.0" x2="327.05" y2="544.0" stroke="#333" stroke-width="0.9"/>
<line x1="230.4" y1="444.5" x2="248.2" y2="444.5" stroke="#333" stroke-width="1.0"/>
<circle cx="239.2" cy="440.4" r="1.1" fill="#333"/>
<text x="224.78" y="554.0" font-size="7.8" textLength="23.2" lengthAdjust="spacingAndGlyphs" fill="#231f20">NKG2A</text>
<text x="248.18" y="550.1" font-size="5.6" fill="#231f20">+</text>
<text x="232.58" y="564.7" font-size="7.8" textLength="10.8" lengthAdjust="spacingAndGlyphs" fill="#231f20">KIR</text>
<text x="243.58" y="560.8" font-size="5.6" fill="#231f20">-</text>
<text x="264.23" y="554.0" font-size="7.8" textLength="23.2" lengthAdjust="spacingAndGlyphs" fill="#231f20">NKG2A</text>
<text x="287.63" y="550.1" font-size="5.6" fill="#231f20">+</text>
<text x="272.03" y="564.7" font-size="7.8" textLength="10.8" lengthAdjust="spacingAndGlyphs" fill="#231f20">KIR</text>
<text x="283.03" y="560.8" font-size="5.6" fill="#231f20">+</text>
<text x="303.75" y="554.0" font-size="7.8" textLength="23.2" lengthAdjust="spacingAndGlyphs" fill="#231f20">NKG2A</text>
<text x="327.15" y="550.1" font-size="5.6" fill="#231f20">-</text>
<text x="311.55" y="564.7" font-size="7.8" textLength="10.8" lengthAdjust="spacingAndGlyphs" fill="#231f20">KIR</text>
<text x="322.55" y="560.8" font-size="5.6" fill="#231f20">+</text>
<text transform="translate(196.5 492.5) rotate(-90)" x="0" y="0" font-size="10.6" text-anchor="middle" textLength="53.6" lengthAdjust="spacingAndGlyphs" fill="#231f20">CD107a+ (%)</text>
<rect x="346" y="455.1" width="8.2" height="5.8" fill="#4f6a91"/>
<rect x="346" y="464.7" width="8.2" height="5.8" fill="#a63745"/>
<text x="357.3" y="460.6" font-size="7.4" textLength="10.2" lengthAdjust="spacingAndGlyphs" fill="#231f20" style="stroke-width:0">T/T</text>
<text x="357.5" y="470.2" font-size="7.4" textLength="12.0" lengthAdjust="spacingAndGlyphs" fill="#231f20" style="stroke-width:0">M/x</text>
<rect x="0" y="0" width="520" height="1" fill="#111"/>
<rect x="1" y="0" width="1" height="574" fill="#6a6a6a"/>
<rect x="0" y="0" width="1" height="574" fill="#4a4a4a"/>
<rect x="518" y="0" width="1" height="574" fill="#7a7a7a"/>
<rect x="519" y="0" width="1" height="574" fill="#4a4a4a"/>
<rect x="0" y="572" width="520" height="1" fill="#6a6a6a"/>
<rect x="0" y="573" width="520" height="1" fill="#4a4a4a"/>
</svg>
</body></html>
